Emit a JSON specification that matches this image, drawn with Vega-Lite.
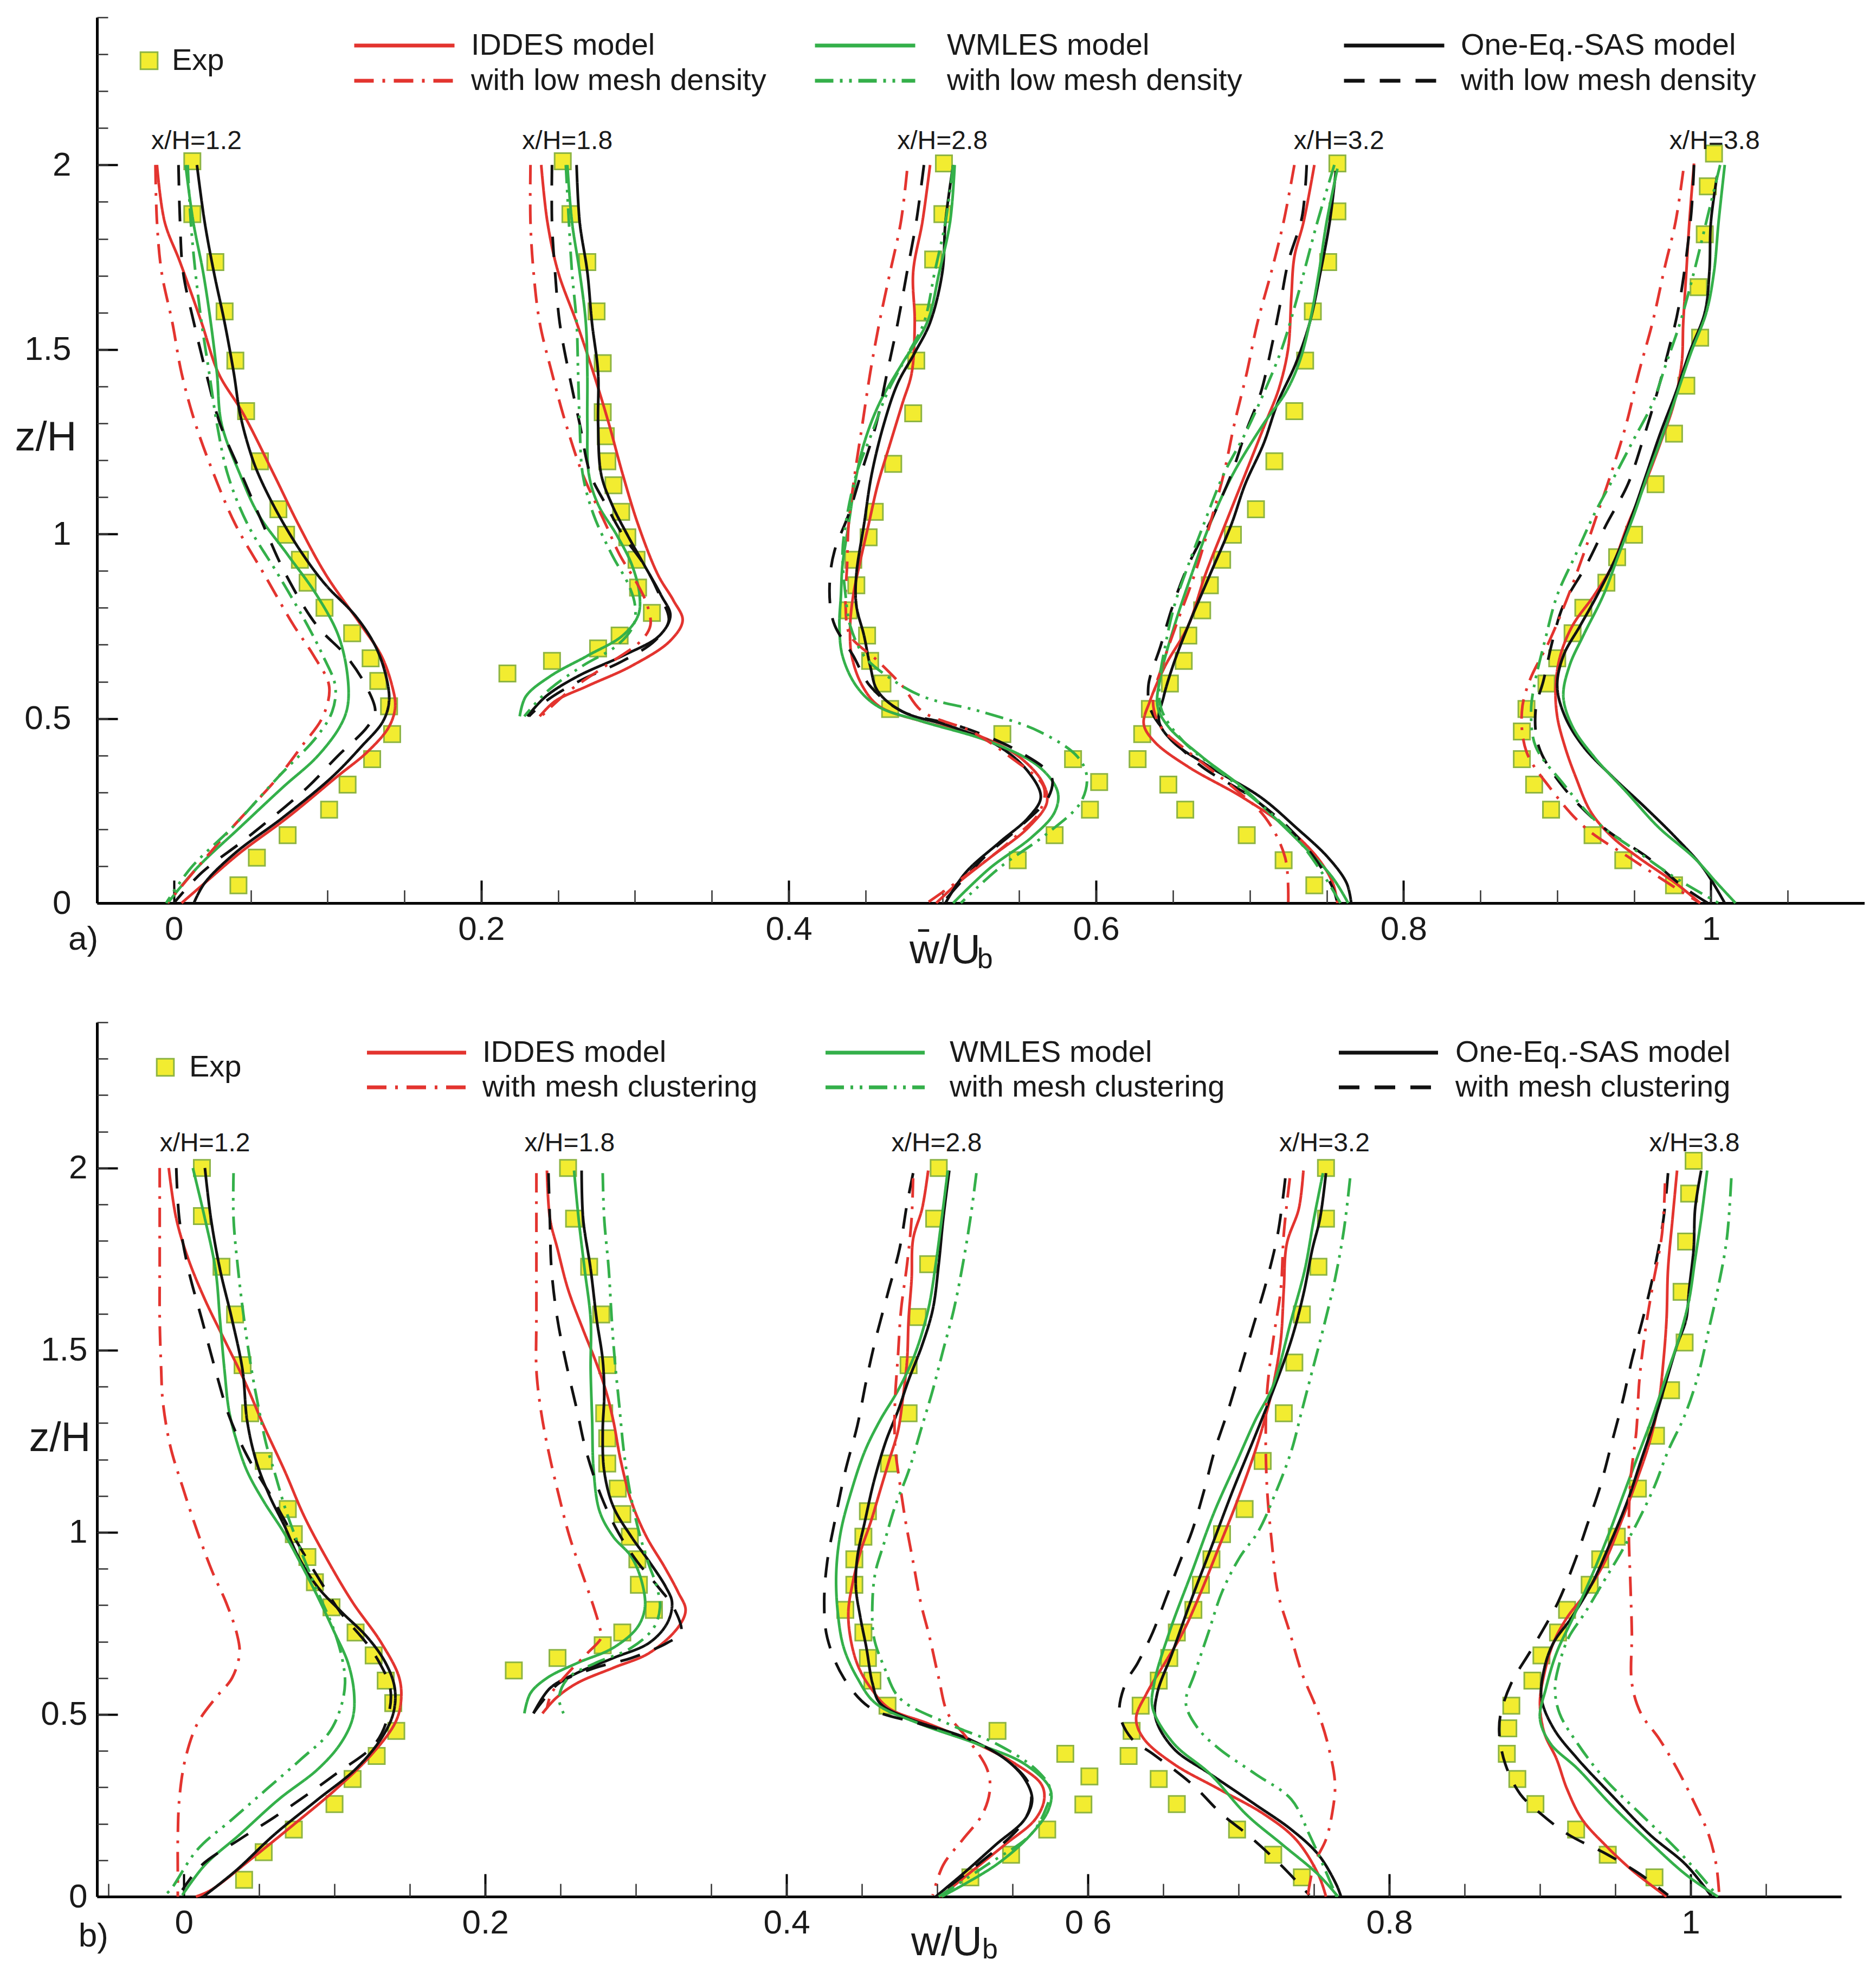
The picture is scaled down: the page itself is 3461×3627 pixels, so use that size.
{
"$schema": "https://vega.github.io/schema/vega-lite/v6.json",
"background": "white",
"padding": {"left": 27, "top": 30, "right": 0, "bottom": 0},
"autosize": {"type": "pad"},
"config": {"view": {"stroke": null}, "font": "Liberation Sans", "text": {"font": "Liberation Sans"}},
"spacing": 220,
"bounds": "flush",
"resolve": {"scale": {"x": "independent", "y": "independent", "color": "independent", "strokeDash": "independent", "fill": "independent"}},
"datasets": {
"a": [
{"s":1,"m":"I","x":-0.011,"z":2},{"s":1,"m":"I","x":-0.006,"z":1.846},{"s":1,"m":"I","x":0.004,"z":1.737},{"s":1,"m":"I","x":0.018,"z":1.573},{"s":1,"m":"I","x":0.029,"z":1.436},{"s":1,"m":"I","x":0.045,"z":1.327},{"s":1,"m":"I","x":0.065,"z":1.162},{"s":1,"m":"I","x":0.081,"z":1.026},{"s":1,"m":"I","x":0.099,"z":0.889},{"s":1,"m":"I","x":0.122,"z":0.752},{"s":1,"m":"I","x":0.135,"z":0.67},{"s":1,"m":"I","x":0.142,"z":0.588},{"s":1,"m":"I","x":0.144,"z":0.533},{"s":1,"m":"I","x":0.14,"z":0.478},{"s":1,"m":"I","x":0.126,"z":0.41},{"s":1,"m":"I","x":0.106,"z":0.342},{"s":1,"m":"I","x":0.074,"z":0.232},{"s":1,"m":"I","x":0.043,"z":0.136},{"s":1,"m":"I","x":0.02,"z":0.054},{"s":1,"m":"I","x":0.005,"z":0},
{"s":1,"m":"S","x":0.015,"z":2},{"s":1,"m":"S","x":0.02,"z":1.846},{"s":1,"m":"S","x":0.026,"z":1.71},{"s":1,"m":"S","x":0.033,"z":1.573},{"s":1,"m":"S","x":0.039,"z":1.436},{"s":1,"m":"S","x":0.043,"z":1.327},{"s":1,"m":"S","x":0.049,"z":1.231},{"s":1,"m":"S","x":0.055,"z":1.162},{"s":1,"m":"S","x":0.068,"z":1.053},{"s":1,"m":"S","x":0.084,"z":0.944},{"s":1,"m":"S","x":0.099,"z":0.861},{"s":1,"m":"S","x":0.118,"z":0.779},{"s":1,"m":"S","x":0.131,"z":0.697},{"s":1,"m":"S","x":0.138,"z":0.615},{"s":1,"m":"S","x":0.14,"z":0.547},{"s":1,"m":"S","x":0.136,"z":0.492},{"s":1,"m":"S","x":0.122,"z":0.424},{"s":1,"m":"S","x":0.103,"z":0.342},{"s":1,"m":"S","x":0.071,"z":0.232},{"s":1,"m":"S","x":0.04,"z":0.136},{"s":1,"m":"S","x":0.02,"z":0.054},{"s":1,"m":"S","x":0.013,"z":0},
{"s":1,"m":"W","x":0.0076,"z":2},{"s":1,"m":"W","x":0.0126,"z":1.846},{"s":1,"m":"W","x":0.019,"z":1.71},{"s":1,"m":"W","x":0.024,"z":1.573},{"s":1,"m":"W","x":0.028,"z":1.436},{"s":1,"m":"W","x":0.031,"z":1.299},{"s":1,"m":"W","x":0.043,"z":1.162},{"s":1,"m":"W","x":0.055,"z":1.053},{"s":1,"m":"W","x":0.074,"z":0.944},{"s":1,"m":"W","x":0.093,"z":0.834},{"s":1,"m":"W","x":0.107,"z":0.725},{"s":1,"m":"W","x":0.113,"z":0.615},{"s":1,"m":"W","x":0.113,"z":0.533},{"s":1,"m":"W","x":0.108,"z":0.478},{"s":1,"m":"W","x":0.093,"z":0.396},{"s":1,"m":"W","x":0.071,"z":0.314},{"s":1,"m":"W","x":0.043,"z":0.205},{"s":1,"m":"W","x":0.015,"z":0.095},{"s":1,"m":"W","x":-0.004,"z":0},
{"s":1,"m":"Sl","x":0.003,"z":2},{"s":1,"m":"Sl","x":0.004,"z":1.846},{"s":1,"m":"Sl","x":0.006,"z":1.71},{"s":1,"m":"Sl","x":0.013,"z":1.573},{"s":1,"m":"Sl","x":0.021,"z":1.436},{"s":1,"m":"Sl","x":0.03,"z":1.299},{"s":1,"m":"Sl","x":0.044,"z":1.162},{"s":1,"m":"Sl","x":0.058,"z":1.026},{"s":1,"m":"Sl","x":0.073,"z":0.889},{"s":1,"m":"Sl","x":0.093,"z":0.752},{"s":1,"m":"Sl","x":0.112,"z":0.67},{"s":1,"m":"Sl","x":0.125,"z":0.588},{"s":1,"m":"Sl","x":0.131,"z":0.519},{"s":1,"m":"Sl","x":0.126,"z":0.478},{"s":1,"m":"Sl","x":0.106,"z":0.396},{"s":1,"m":"Sl","x":0.087,"z":0.314},{"s":1,"m":"Sl","x":0.048,"z":0.178},{"s":1,"m":"Sl","x":0.018,"z":0.082},{"s":1,"m":"Sl","x":0,"z":0},
{"s":1,"m":"Il","x":-0.012,"z":2},{"s":1,"m":"Il","x":-0.011,"z":1.846},{"s":1,"m":"Il","x":-0.008,"z":1.71},{"s":1,"m":"Il","x":-0.001,"z":1.573},{"s":1,"m":"Il","x":0.005,"z":1.436},{"s":1,"m":"Il","x":0.014,"z":1.299},{"s":1,"m":"Il","x":0.026,"z":1.162},{"s":1,"m":"Il","x":0.04,"z":1.026},{"s":1,"m":"Il","x":0.059,"z":0.889},{"s":1,"m":"Il","x":0.078,"z":0.752},{"s":1,"m":"Il","x":0.091,"z":0.67},{"s":1,"m":"Il","x":0.101,"z":0.588},{"s":1,"m":"Il","x":0.097,"z":0.506},{"s":1,"m":"Il","x":0.083,"z":0.424},{"s":1,"m":"Il","x":0.068,"z":0.342},{"s":1,"m":"Il","x":0.038,"z":0.205},{"s":1,"m":"Il","x":0.015,"z":0.095},{"s":1,"m":"Il","x":-0.004,"z":0},
{"s":1,"m":"Wl","x":0.009,"z":2},{"s":1,"m":"Wl","x":0.011,"z":1.846},{"s":1,"m":"Wl","x":0.014,"z":1.71},{"s":1,"m":"Wl","x":0.018,"z":1.573},{"s":1,"m":"Wl","x":0.023,"z":1.436},{"s":1,"m":"Wl","x":0.028,"z":1.299},{"s":1,"m":"Wl","x":0.035,"z":1.162},{"s":1,"m":"Wl","x":0.048,"z":1.026},{"s":1,"m":"Wl","x":0.068,"z":0.889},{"s":1,"m":"Wl","x":0.087,"z":0.752},{"s":1,"m":"Wl","x":0.097,"z":0.67},{"s":1,"m":"Wl","x":0.105,"z":0.588},{"s":1,"m":"Wl","x":0.103,"z":0.519},{"s":1,"m":"Wl","x":0.093,"z":0.451},{"s":1,"m":"Wl","x":0.068,"z":0.342},{"s":1,"m":"Wl","x":0.038,"z":0.205},{"s":1,"m":"Wl","x":0.011,"z":0.095},{"s":1,"m":"Wl","x":-0.005,"z":0},
{"s":1,"m":"E","x":0.012,"z":2.01},{"s":1,"m":"E","x":0.012,"z":1.867},{"s":1,"m":"E","x":0.027,"z":1.737},{"s":1,"m":"E","x":0.033,"z":1.603},{"s":1,"m":"E","x":0.04,"z":1.47},{"s":1,"m":"E","x":0.047,"z":1.333},{"s":1,"m":"E","x":0.056,"z":1.197},{"s":1,"m":"E","x":0.068,"z":1.067},{"s":1,"m":"E","x":0.073,"z":0.998},{"s":1,"m":"E","x":0.082,"z":0.93},{"s":1,"m":"E","x":0.087,"z":0.868},{"s":1,"m":"E","x":0.098,"z":0.8},{"s":1,"m":"E","x":0.116,"z":0.731},{"s":1,"m":"E","x":0.128,"z":0.663},{"s":1,"m":"E","x":0.133,"z":0.602},{"s":1,"m":"E","x":0.14,"z":0.533},{"s":1,"m":"E","x":0.142,"z":0.458},{"s":1,"m":"E","x":0.129,"z":0.39},{"s":1,"m":"E","x":0.113,"z":0.321},{"s":1,"m":"E","x":0.101,"z":0.253},{"s":1,"m":"E","x":0.074,"z":0.184},{"s":1,"m":"E","x":0.054,"z":0.123},{"s":1,"m":"E","x":0.042,"z":0.048},
{"s":2,"m":"I","x":0.239,"z":2},{"s":2,"m":"I","x":0.243,"z":1.846},{"s":2,"m":"I","x":0.25,"z":1.71},{"s":2,"m":"I","x":0.262,"z":1.573},{"s":2,"m":"I","x":0.273,"z":1.436},{"s":2,"m":"I","x":0.283,"z":1.299},{"s":2,"m":"I","x":0.292,"z":1.162},{"s":2,"m":"I","x":0.302,"z":1.026},{"s":2,"m":"I","x":0.315,"z":0.889},{"s":2,"m":"I","x":0.325,"z":0.82},{"s":2,"m":"I","x":0.331,"z":0.766},{"s":2,"m":"I","x":0.323,"z":0.711},{"s":2,"m":"I","x":0.298,"z":0.643},{"s":2,"m":"I","x":0.269,"z":0.588},{"s":2,"m":"I","x":0.248,"z":0.547},{"s":2,"m":"I","x":0.238,"z":0.506},
{"s":2,"m":"S","x":0.262,"z":2},{"s":2,"m":"S","x":0.264,"z":1.846},{"s":2,"m":"S","x":0.269,"z":1.71},{"s":2,"m":"S","x":0.272,"z":1.573},{"s":2,"m":"S","x":0.276,"z":1.436},{"s":2,"m":"S","x":0.276,"z":1.299},{"s":2,"m":"S","x":0.278,"z":1.162},{"s":2,"m":"S","x":0.285,"z":1.08},{"s":2,"m":"S","x":0.295,"z":0.998},{"s":2,"m":"S","x":0.306,"z":0.916},{"s":2,"m":"S","x":0.317,"z":0.834},{"s":2,"m":"S","x":0.323,"z":0.779},{"s":2,"m":"S","x":0.316,"z":0.725},{"s":2,"m":"S","x":0.292,"z":0.67},{"s":2,"m":"S","x":0.263,"z":0.615},{"s":2,"m":"S","x":0.242,"z":0.56},{"s":2,"m":"S","x":0.23,"z":0.506},
{"s":2,"m":"W","x":0.256,"z":2},{"s":2,"m":"W","x":0.259,"z":1.846},{"s":2,"m":"W","x":0.264,"z":1.71},{"s":2,"m":"W","x":0.268,"z":1.573},{"s":2,"m":"W","x":0.269,"z":1.436},{"s":2,"m":"W","x":0.269,"z":1.299},{"s":2,"m":"W","x":0.27,"z":1.162},{"s":2,"m":"W","x":0.276,"z":1.08},{"s":2,"m":"W","x":0.288,"z":0.998},{"s":2,"m":"W","x":0.298,"z":0.916},{"s":2,"m":"W","x":0.303,"z":0.834},{"s":2,"m":"W","x":0.302,"z":0.779},{"s":2,"m":"W","x":0.292,"z":0.725},{"s":2,"m":"W","x":0.269,"z":0.67},{"s":2,"m":"W","x":0.245,"z":0.615},{"s":2,"m":"W","x":0.229,"z":0.56},{"s":2,"m":"W","x":0.225,"z":0.506},
{"s":2,"m":"Sl","x":0.246,"z":2},{"s":2,"m":"Sl","x":0.246,"z":1.846},{"s":2,"m":"Sl","x":0.248,"z":1.71},{"s":2,"m":"Sl","x":0.251,"z":1.573},{"s":2,"m":"Sl","x":0.257,"z":1.436},{"s":2,"m":"Sl","x":0.264,"z":1.299},{"s":2,"m":"Sl","x":0.271,"z":1.162},{"s":2,"m":"Sl","x":0.281,"z":1.08},{"s":2,"m":"Sl","x":0.292,"z":0.998},{"s":2,"m":"Sl","x":0.306,"z":0.916},{"s":2,"m":"Sl","x":0.316,"z":0.834},{"s":2,"m":"Sl","x":0.322,"z":0.766},{"s":2,"m":"Sl","x":0.313,"z":0.711},{"s":2,"m":"Sl","x":0.292,"z":0.656},{"s":2,"m":"Sl","x":0.264,"z":0.602},{"s":2,"m":"Sl","x":0.242,"z":0.547},{"s":2,"m":"Sl","x":0.231,"z":0.506},
{"s":2,"m":"Il","x":0.232,"z":2},{"s":2,"m":"Il","x":0.232,"z":1.846},{"s":2,"m":"Il","x":0.234,"z":1.71},{"s":2,"m":"Il","x":0.238,"z":1.573},{"s":2,"m":"Il","x":0.246,"z":1.436},{"s":2,"m":"Il","x":0.255,"z":1.299},{"s":2,"m":"Il","x":0.266,"z":1.162},{"s":2,"m":"Il","x":0.281,"z":1.026},{"s":2,"m":"Il","x":0.29,"z":0.944},{"s":2,"m":"Il","x":0.302,"z":0.861},{"s":2,"m":"Il","x":0.308,"z":0.807},{"s":2,"m":"Il","x":0.31,"z":0.752},{"s":2,"m":"Il","x":0.304,"z":0.711},{"s":2,"m":"Il","x":0.281,"z":0.643},{"s":2,"m":"Il","x":0.257,"z":0.574},{"s":2,"m":"Il","x":0.239,"z":0.506},
{"s":2,"m":"Wl","x":0.255,"z":2},{"s":2,"m":"Wl","x":0.257,"z":1.846},{"s":2,"m":"Wl","x":0.259,"z":1.71},{"s":2,"m":"Wl","x":0.262,"z":1.573},{"s":2,"m":"Wl","x":0.263,"z":1.436},{"s":2,"m":"Wl","x":0.264,"z":1.299},{"s":2,"m":"Wl","x":0.266,"z":1.162},{"s":2,"m":"Wl","x":0.273,"z":1.053},{"s":2,"m":"Wl","x":0.285,"z":0.944},{"s":2,"m":"Wl","x":0.296,"z":0.861},{"s":2,"m":"Wl","x":0.3,"z":0.807},{"s":2,"m":"Wl","x":0.299,"z":0.752},{"s":2,"m":"Wl","x":0.288,"z":0.697},{"s":2,"m":"Wl","x":0.266,"z":0.643},{"s":2,"m":"Wl","x":0.243,"z":0.574},{"s":2,"m":"Wl","x":0.228,"z":0.506},
{"s":2,"m":"E","x":0.253,"z":2.01},{"s":2,"m":"E","x":0.258,"z":1.867},{"s":2,"m":"E","x":0.269,"z":1.737},{"s":2,"m":"E","x":0.275,"z":1.603},{"s":2,"m":"E","x":0.279,"z":1.463},{"s":2,"m":"E","x":0.279,"z":1.33},{"s":2,"m":"E","x":0.281,"z":1.265},{"s":2,"m":"E","x":0.282,"z":1.197},{"s":2,"m":"E","x":0.286,"z":1.132},{"s":2,"m":"E","x":0.291,"z":1.06},{"s":2,"m":"E","x":0.295,"z":0.991},{"s":2,"m":"E","x":0.301,"z":0.93},{"s":2,"m":"E","x":0.302,"z":0.855},{"s":2,"m":"E","x":0.311,"z":0.786},{"s":2,"m":"E","x":0.29,"z":0.725},{"s":2,"m":"E","x":0.276,"z":0.69},{"s":2,"m":"E","x":0.246,"z":0.656},{"s":2,"m":"E","x":0.217,"z":0.622},
{"s":3,"m":"I","x":0.492,"z":2},{"s":3,"m":"I","x":0.487,"z":1.846},{"s":3,"m":"I","x":0.481,"z":1.71},{"s":3,"m":"I","x":0.482,"z":1.573},{"s":3,"m":"I","x":0.48,"z":1.436},{"s":3,"m":"I","x":0.474,"z":1.354},{"s":3,"m":"I","x":0.466,"z":1.245},{"s":3,"m":"I","x":0.458,"z":1.135},{"s":3,"m":"I","x":0.452,"z":1.026},{"s":3,"m":"I","x":0.446,"z":0.916},{"s":3,"m":"I","x":0.442,"z":0.834},{"s":3,"m":"I","x":0.44,"z":0.752},{"s":3,"m":"I","x":0.441,"z":0.67},{"s":3,"m":"I","x":0.448,"z":0.588},{"s":3,"m":"I","x":0.459,"z":0.533},{"s":3,"m":"I","x":0.487,"z":0.492},{"s":3,"m":"I","x":0.525,"z":0.451},{"s":3,"m":"I","x":0.55,"z":0.396},{"s":3,"m":"I","x":0.565,"z":0.328},{"s":3,"m":"I","x":0.568,"z":0.273},{"s":3,"m":"I","x":0.556,"z":0.205},{"s":3,"m":"I","x":0.531,"z":0.123},{"s":3,"m":"I","x":0.51,"z":0.054},{"s":3,"m":"I","x":0.496,"z":0},
{"s":3,"m":"S","x":0.507,"z":2},{"s":3,"m":"S","x":0.502,"z":1.846},{"s":3,"m":"S","x":0.5,"z":1.71},{"s":3,"m":"S","x":0.492,"z":1.573},{"s":3,"m":"S","x":0.482,"z":1.491},{"s":3,"m":"S","x":0.471,"z":1.409},{"s":3,"m":"S","x":0.462,"z":1.299},{"s":3,"m":"S","x":0.454,"z":1.162},{"s":3,"m":"S","x":0.449,"z":1.026},{"s":3,"m":"S","x":0.444,"z":0.889},{"s":3,"m":"S","x":0.444,"z":0.807},{"s":3,"m":"S","x":0.449,"z":0.725},{"s":3,"m":"S","x":0.453,"z":0.643},{"s":3,"m":"S","x":0.458,"z":0.574},{"s":3,"m":"S","x":0.474,"z":0.519},{"s":3,"m":"S","x":0.506,"z":0.478},{"s":3,"m":"S","x":0.537,"z":0.424},{"s":3,"m":"S","x":0.556,"z":0.355},{"s":3,"m":"S","x":0.564,"z":0.287},{"s":3,"m":"S","x":0.556,"z":0.232},{"s":3,"m":"S","x":0.537,"z":0.164},{"s":3,"m":"S","x":0.515,"z":0.082},{"s":3,"m":"S","x":0.502,"z":0},
{"s":3,"m":"W","x":0.508,"z":2},{"s":3,"m":"W","x":0.505,"z":1.846},{"s":3,"m":"W","x":0.498,"z":1.71},{"s":3,"m":"W","x":0.49,"z":1.573},{"s":3,"m":"W","x":0.474,"z":1.463},{"s":3,"m":"W","x":0.459,"z":1.354},{"s":3,"m":"W","x":0.449,"z":1.245},{"s":3,"m":"W","x":0.443,"z":1.135},{"s":3,"m":"W","x":0.439,"z":1.026},{"s":3,"m":"W","x":0.435,"z":0.916},{"s":3,"m":"W","x":0.434,"z":0.834},{"s":3,"m":"W","x":0.433,"z":0.752},{"s":3,"m":"W","x":0.435,"z":0.67},{"s":3,"m":"W","x":0.444,"z":0.588},{"s":3,"m":"W","x":0.458,"z":0.533},{"s":3,"m":"W","x":0.487,"z":0.492},{"s":3,"m":"W","x":0.531,"z":0.437},{"s":3,"m":"W","x":0.563,"z":0.369},{"s":3,"m":"W","x":0.575,"z":0.301},{"s":3,"m":"W","x":0.573,"z":0.246},{"s":3,"m":"W","x":0.558,"z":0.178},{"s":3,"m":"W","x":0.531,"z":0.095},{"s":3,"m":"W","x":0.507,"z":0},
{"s":3,"m":"Sl","x":0.488,"z":2},{"s":3,"m":"Sl","x":0.483,"z":1.846},{"s":3,"m":"Sl","x":0.477,"z":1.71},{"s":3,"m":"Sl","x":0.471,"z":1.573},{"s":3,"m":"Sl","x":0.464,"z":1.436},{"s":3,"m":"Sl","x":0.457,"z":1.299},{"s":3,"m":"Sl","x":0.447,"z":1.162},{"s":3,"m":"Sl","x":0.439,"z":1.053},{"s":3,"m":"Sl","x":0.43,"z":0.957},{"s":3,"m":"Sl","x":0.427,"z":0.889},{"s":3,"m":"Sl","x":0.427,"z":0.807},{"s":3,"m":"Sl","x":0.43,"z":0.752},{"s":3,"m":"Sl","x":0.442,"z":0.67},{"s":3,"m":"Sl","x":0.453,"z":0.588},{"s":3,"m":"Sl","x":0.474,"z":0.519},{"s":3,"m":"Sl","x":0.512,"z":0.478},{"s":3,"m":"Sl","x":0.55,"z":0.41},{"s":3,"m":"Sl","x":0.571,"z":0.342},{"s":3,"m":"Sl","x":0.569,"z":0.287},{"s":3,"m":"Sl","x":0.55,"z":0.205},{"s":3,"m":"Sl","x":0.527,"z":0.123},{"s":3,"m":"Sl","x":0.5,"z":0},
{"s":3,"m":"Il","x":0.477,"z":1.984},{"s":3,"m":"Il","x":0.473,"z":1.846},{"s":3,"m":"Il","x":0.466,"z":1.71},{"s":3,"m":"Il","x":0.459,"z":1.573},{"s":3,"m":"Il","x":0.453,"z":1.436},{"s":3,"m":"Il","x":0.448,"z":1.299},{"s":3,"m":"Il","x":0.443,"z":1.162},{"s":3,"m":"Il","x":0.439,"z":1.026},{"s":3,"m":"Il","x":0.438,"z":0.916},{"s":3,"m":"Il","x":0.437,"z":0.807},{"s":3,"m":"Il","x":0.44,"z":0.725},{"s":3,"m":"Il","x":0.458,"z":0.656},{"s":3,"m":"Il","x":0.474,"z":0.588},{"s":3,"m":"Il","x":0.487,"z":0.519},{"s":3,"m":"Il","x":0.519,"z":0.465},{"s":3,"m":"Il","x":0.544,"z":0.396},{"s":3,"m":"Il","x":0.566,"z":0.314},{"s":3,"m":"Il","x":0.563,"z":0.246},{"s":3,"m":"Il","x":0.547,"z":0.178},{"s":3,"m":"Il","x":0.522,"z":0.095},{"s":3,"m":"Il","x":0.49,"z":0},
{"s":3,"m":"Wl","x":0.507,"z":2},{"s":3,"m":"Wl","x":0.502,"z":1.846},{"s":3,"m":"Wl","x":0.495,"z":1.71},{"s":3,"m":"Wl","x":0.488,"z":1.573},{"s":3,"m":"Wl","x":0.478,"z":1.491},{"s":3,"m":"Wl","x":0.464,"z":1.381},{"s":3,"m":"Wl","x":0.454,"z":1.272},{"s":3,"m":"Wl","x":0.444,"z":1.162},{"s":3,"m":"Wl","x":0.437,"z":1.026},{"s":3,"m":"Wl","x":0.435,"z":0.944},{"s":3,"m":"Wl","x":0.437,"z":0.834},{"s":3,"m":"Wl","x":0.44,"z":0.752},{"s":3,"m":"Wl","x":0.449,"z":0.67},{"s":3,"m":"Wl","x":0.464,"z":0.615},{"s":3,"m":"Wl","x":0.487,"z":0.56},{"s":3,"m":"Wl","x":0.525,"z":0.519},{"s":3,"m":"Wl","x":0.563,"z":0.465},{"s":3,"m":"Wl","x":0.588,"z":0.396},{"s":3,"m":"Wl","x":0.594,"z":0.342},{"s":3,"m":"Wl","x":0.59,"z":0.273},{"s":3,"m":"Wl","x":0.569,"z":0.191},{"s":3,"m":"Wl","x":0.537,"z":0.095},{"s":3,"m":"Wl","x":0.512,"z":0},
{"s":3,"m":"E","x":0.501,"z":2.004},{"s":3,"m":"E","x":0.5,"z":1.867},{"s":3,"m":"E","x":0.494,"z":1.744},{"s":3,"m":"E","x":0.487,"z":1.6},{"s":3,"m":"E","x":0.483,"z":1.47},{"s":3,"m":"E","x":0.481,"z":1.327},{"s":3,"m":"E","x":0.468,"z":1.19},{"s":3,"m":"E","x":0.456,"z":1.06},{"s":3,"m":"E","x":0.452,"z":0.991},{"s":3,"m":"E","x":0.442,"z":0.93},{"s":3,"m":"E","x":0.444,"z":0.861},{"s":3,"m":"E","x":0.439,"z":0.793},{"s":3,"m":"E","x":0.451,"z":0.725},{"s":3,"m":"E","x":0.453,"z":0.656},{"s":3,"m":"E","x":0.461,"z":0.595},{"s":3,"m":"E","x":0.466,"z":0.526},{"s":3,"m":"E","x":0.539,"z":0.458},{"s":3,"m":"E","x":0.585,"z":0.39},{"s":3,"m":"E","x":0.602,"z":0.328},{"s":3,"m":"E","x":0.596,"z":0.253},{"s":3,"m":"E","x":0.573,"z":0.184},{"s":3,"m":"E","x":0.549,"z":0.116},
{"s":4,"m":"I","x":0.742,"z":2},{"s":4,"m":"I","x":0.735,"z":1.846},{"s":4,"m":"I","x":0.729,"z":1.751},{"s":4,"m":"I","x":0.727,"z":1.641},{"s":4,"m":"I","x":0.725,"z":1.504},{"s":4,"m":"I","x":0.719,"z":1.395},{"s":4,"m":"I","x":0.71,"z":1.299},{"s":4,"m":"I","x":0.697,"z":1.162},{"s":4,"m":"I","x":0.684,"z":1.026},{"s":4,"m":"I","x":0.671,"z":0.889},{"s":4,"m":"I","x":0.66,"z":0.752},{"s":4,"m":"I","x":0.645,"z":0.643},{"s":4,"m":"I","x":0.635,"z":0.547},{"s":4,"m":"I","x":0.631,"z":0.485},{"s":4,"m":"I","x":0.638,"z":0.437},{"s":4,"m":"I","x":0.66,"z":0.369},{"s":4,"m":"I","x":0.695,"z":0.287},{"s":4,"m":"I","x":0.724,"z":0.205},{"s":4,"m":"I","x":0.744,"z":0.123},{"s":4,"m":"I","x":0.754,"z":0.054},{"s":4,"m":"I","x":0.757,"z":0},
{"s":4,"m":"S","x":0.756,"z":1.984},{"s":4,"m":"S","x":0.752,"z":1.846},{"s":4,"m":"S","x":0.746,"z":1.71},{"s":4,"m":"S","x":0.739,"z":1.573},{"s":4,"m":"S","x":0.73,"z":1.463},{"s":4,"m":"S","x":0.718,"z":1.354},{"s":4,"m":"S","x":0.709,"z":1.245},{"s":4,"m":"S","x":0.697,"z":1.135},{"s":4,"m":"S","x":0.688,"z":1.026},{"s":4,"m":"S","x":0.674,"z":0.889},{"s":4,"m":"S","x":0.66,"z":0.752},{"s":4,"m":"S","x":0.65,"z":0.643},{"s":4,"m":"S","x":0.644,"z":0.56},{"s":4,"m":"S","x":0.641,"z":0.492},{"s":4,"m":"S","x":0.65,"z":0.437},{"s":4,"m":"S","x":0.674,"z":0.369},{"s":4,"m":"S","x":0.707,"z":0.287},{"s":4,"m":"S","x":0.73,"z":0.205},{"s":4,"m":"S","x":0.751,"z":0.123},{"s":4,"m":"S","x":0.763,"z":0.054},{"s":4,"m":"S","x":0.766,"z":0},
{"s":4,"m":"W","x":0.757,"z":1.99},{"s":4,"m":"W","x":0.75,"z":1.846},{"s":4,"m":"W","x":0.745,"z":1.71},{"s":4,"m":"W","x":0.739,"z":1.573},{"s":4,"m":"W","x":0.732,"z":1.463},{"s":4,"m":"W","x":0.723,"z":1.381},{"s":4,"m":"W","x":0.709,"z":1.299},{"s":4,"m":"W","x":0.689,"z":1.162},{"s":4,"m":"W","x":0.674,"z":1.026},{"s":4,"m":"W","x":0.662,"z":0.889},{"s":4,"m":"W","x":0.651,"z":0.752},{"s":4,"m":"W","x":0.642,"z":0.615},{"s":4,"m":"W","x":0.64,"z":0.533},{"s":4,"m":"W","x":0.647,"z":0.478},{"s":4,"m":"W","x":0.669,"z":0.396},{"s":4,"m":"W","x":0.695,"z":0.314},{"s":4,"m":"W","x":0.716,"z":0.232},{"s":4,"m":"W","x":0.736,"z":0.15},{"s":4,"m":"W","x":0.754,"z":0.068},{"s":4,"m":"W","x":0.764,"z":0},
{"s":4,"m":"Sl","x":0.737,"z":2},{"s":4,"m":"Sl","x":0.734,"z":1.86},{"s":4,"m":"Sl","x":0.725,"z":1.737},{"s":4,"m":"Sl","x":0.72,"z":1.628},{"s":4,"m":"Sl","x":0.714,"z":1.504},{"s":4,"m":"Sl","x":0.707,"z":1.381},{"s":4,"m":"Sl","x":0.697,"z":1.272},{"s":4,"m":"Sl","x":0.688,"z":1.162},{"s":4,"m":"Sl","x":0.675,"z":1.039},{"s":4,"m":"Sl","x":0.66,"z":0.916},{"s":4,"m":"Sl","x":0.65,"z":0.807},{"s":4,"m":"Sl","x":0.642,"z":0.697},{"s":4,"m":"Sl","x":0.634,"z":0.588},{"s":4,"m":"Sl","x":0.636,"z":0.519},{"s":4,"m":"Sl","x":0.648,"z":0.451},{"s":4,"m":"Sl","x":0.669,"z":0.369},{"s":4,"m":"Sl","x":0.701,"z":0.287},{"s":4,"m":"Sl","x":0.725,"z":0.205},{"s":4,"m":"Sl","x":0.742,"z":0.123},{"s":4,"m":"Sl","x":0.754,"z":0.041},{"s":4,"m":"Sl","x":0.757,"z":0},
{"s":4,"m":"Il","x":0.729,"z":2},{"s":4,"m":"Il","x":0.722,"z":1.846},{"s":4,"m":"Il","x":0.714,"z":1.71},{"s":4,"m":"Il","x":0.705,"z":1.573},{"s":4,"m":"Il","x":0.698,"z":1.436},{"s":4,"m":"Il","x":0.69,"z":1.299},{"s":4,"m":"Il","x":0.683,"z":1.162},{"s":4,"m":"Il","x":0.674,"z":1.026},{"s":4,"m":"Il","x":0.664,"z":0.889},{"s":4,"m":"Il","x":0.652,"z":0.752},{"s":4,"m":"Il","x":0.643,"z":0.643},{"s":4,"m":"Il","x":0.637,"z":0.547},{"s":4,"m":"Il","x":0.642,"z":0.478},{"s":4,"m":"Il","x":0.66,"z":0.41},{"s":4,"m":"Il","x":0.689,"z":0.314},{"s":4,"m":"Il","x":0.71,"z":0.232},{"s":4,"m":"Il","x":0.723,"z":0.123},{"s":4,"m":"Il","x":0.725,"z":0},
{"s":4,"m":"Wl","x":0.755,"z":2},{"s":4,"m":"Wl","x":0.744,"z":1.846},{"s":4,"m":"Wl","x":0.737,"z":1.737},{"s":4,"m":"Wl","x":0.73,"z":1.628},{"s":4,"m":"Wl","x":0.721,"z":1.504},{"s":4,"m":"Wl","x":0.709,"z":1.381},{"s":4,"m":"Wl","x":0.697,"z":1.272},{"s":4,"m":"Wl","x":0.683,"z":1.162},{"s":4,"m":"Wl","x":0.67,"z":1.026},{"s":4,"m":"Wl","x":0.66,"z":0.916},{"s":4,"m":"Wl","x":0.651,"z":0.807},{"s":4,"m":"Wl","x":0.645,"z":0.697},{"s":4,"m":"Wl","x":0.641,"z":0.588},{"s":4,"m":"Wl","x":0.643,"z":0.519},{"s":4,"m":"Wl","x":0.657,"z":0.437},{"s":4,"m":"Wl","x":0.685,"z":0.342},{"s":4,"m":"Wl","x":0.709,"z":0.26},{"s":4,"m":"Wl","x":0.73,"z":0.178},{"s":4,"m":"Wl","x":0.747,"z":0.082},{"s":4,"m":"Wl","x":0.759,"z":0},
{"s":4,"m":"E","x":0.757,"z":2.004},{"s":4,"m":"E","x":0.757,"z":1.874},{"s":4,"m":"E","x":0.751,"z":1.737},{"s":4,"m":"E","x":0.741,"z":1.603},{"s":4,"m":"E","x":0.736,"z":1.47},{"s":4,"m":"E","x":0.729,"z":1.333},{"s":4,"m":"E","x":0.716,"z":1.197},{"s":4,"m":"E","x":0.704,"z":1.067},{"s":4,"m":"E","x":0.689,"z":0.998},{"s":4,"m":"E","x":0.682,"z":0.93},{"s":4,"m":"E","x":0.674,"z":0.861},{"s":4,"m":"E","x":0.669,"z":0.793},{"s":4,"m":"E","x":0.66,"z":0.725},{"s":4,"m":"E","x":0.657,"z":0.656},{"s":4,"m":"E","x":0.648,"z":0.595},{"s":4,"m":"E","x":0.635,"z":0.526},{"s":4,"m":"E","x":0.63,"z":0.458},{"s":4,"m":"E","x":0.627,"z":0.39},{"s":4,"m":"E","x":0.647,"z":0.321},{"s":4,"m":"E","x":0.658,"z":0.253},{"s":4,"m":"E","x":0.698,"z":0.184},{"s":4,"m":"E","x":0.722,"z":0.116},{"s":4,"m":"E","x":0.742,"z":0.048},
{"s":5,"m":"I","x":0.989,"z":2.004},{"s":5,"m":"I","x":0.986,"z":1.846},{"s":5,"m":"I","x":0.984,"z":1.71},{"s":5,"m":"I","x":0.982,"z":1.573},{"s":5,"m":"I","x":0.981,"z":1.463},{"s":5,"m":"I","x":0.976,"z":1.354},{"s":5,"m":"I","x":0.967,"z":1.245},{"s":5,"m":"I","x":0.957,"z":1.135},{"s":5,"m":"I","x":0.946,"z":1.026},{"s":5,"m":"I","x":0.936,"z":0.916},{"s":5,"m":"I","x":0.924,"z":0.834},{"s":5,"m":"I","x":0.91,"z":0.752},{"s":5,"m":"I","x":0.902,"z":0.67},{"s":5,"m":"I","x":0.899,"z":0.588},{"s":5,"m":"I","x":0.9,"z":0.506},{"s":5,"m":"I","x":0.905,"z":0.424},{"s":5,"m":"I","x":0.912,"z":0.342},{"s":5,"m":"I","x":0.922,"z":0.246},{"s":5,"m":"I","x":0.936,"z":0.178},{"s":5,"m":"I","x":0.953,"z":0.123},{"s":5,"m":"I","x":0.977,"z":0.054},{"s":5,"m":"I","x":0.993,"z":0},
{"s":5,"m":"S","x":1.004,"z":1.97},{"s":5,"m":"S","x":1,"z":1.846},{"s":5,"m":"S","x":0.999,"z":1.71},{"s":5,"m":"S","x":0.996,"z":1.6},{"s":5,"m":"S","x":0.986,"z":1.491},{"s":5,"m":"S","x":0.977,"z":1.381},{"s":5,"m":"S","x":0.967,"z":1.272},{"s":5,"m":"S","x":0.958,"z":1.162},{"s":5,"m":"S","x":0.949,"z":1.053},{"s":5,"m":"S","x":0.939,"z":0.944},{"s":5,"m":"S","x":0.926,"z":0.834},{"s":5,"m":"S","x":0.915,"z":0.752},{"s":5,"m":"S","x":0.904,"z":0.67},{"s":5,"m":"S","x":0.9,"z":0.588},{"s":5,"m":"S","x":0.905,"z":0.506},{"s":5,"m":"S","x":0.917,"z":0.424},{"s":5,"m":"S","x":0.936,"z":0.342},{"s":5,"m":"S","x":0.957,"z":0.26},{"s":5,"m":"S","x":0.977,"z":0.178},{"s":5,"m":"S","x":0.995,"z":0.095},{"s":5,"m":"S","x":1.009,"z":0},
{"s":5,"m":"W","x":1.009,"z":2},{"s":5,"m":"W","x":1.005,"z":1.846},{"s":5,"m":"W","x":1.002,"z":1.71},{"s":5,"m":"W","x":0.997,"z":1.6},{"s":5,"m":"W","x":0.987,"z":1.491},{"s":5,"m":"W","x":0.978,"z":1.381},{"s":5,"m":"W","x":0.969,"z":1.272},{"s":5,"m":"W","x":0.959,"z":1.162},{"s":5,"m":"W","x":0.95,"z":1.053},{"s":5,"m":"W","x":0.94,"z":0.944},{"s":5,"m":"W","x":0.93,"z":0.834},{"s":5,"m":"W","x":0.917,"z":0.725},{"s":5,"m":"W","x":0.908,"z":0.643},{"s":5,"m":"W","x":0.904,"z":0.56},{"s":5,"m":"W","x":0.91,"z":0.478},{"s":5,"m":"W","x":0.924,"z":0.396},{"s":5,"m":"W","x":0.945,"z":0.301},{"s":5,"m":"W","x":0.966,"z":0.205},{"s":5,"m":"W","x":0.989,"z":0.123},{"s":5,"m":"W","x":1.004,"z":0.054},{"s":5,"m":"W","x":1.016,"z":0},
{"s":5,"m":"Sl","x":0.989,"z":2},{"s":5,"m":"Sl","x":0.987,"z":1.86},{"s":5,"m":"Sl","x":0.979,"z":1.614},{"s":5,"m":"Sl","x":0.972,"z":1.491},{"s":5,"m":"Sl","x":0.964,"z":1.368},{"s":5,"m":"Sl","x":0.956,"z":1.258},{"s":5,"m":"Sl","x":0.946,"z":1.135},{"s":5,"m":"Sl","x":0.932,"z":1.026},{"s":5,"m":"Sl","x":0.919,"z":0.916},{"s":5,"m":"Sl","x":0.904,"z":0.807},{"s":5,"m":"Sl","x":0.897,"z":0.711},{"s":5,"m":"Sl","x":0.891,"z":0.602},{"s":5,"m":"Sl","x":0.886,"z":0.526},{"s":5,"m":"Sl","x":0.888,"z":0.424},{"s":5,"m":"Sl","x":0.904,"z":0.314},{"s":5,"m":"Sl","x":0.93,"z":0.205},{"s":5,"m":"Sl","x":0.959,"z":0.123},{"s":5,"m":"Sl","x":0.983,"z":0.041},{"s":5,"m":"Sl","x":0.998,"z":0},
{"s":5,"m":"Il","x":0.982,"z":1.984},{"s":5,"m":"Il","x":0.977,"z":1.846},{"s":5,"m":"Il","x":0.97,"z":1.723},{"s":5,"m":"Il","x":0.962,"z":1.573},{"s":5,"m":"Il","x":0.953,"z":1.436},{"s":5,"m":"Il","x":0.945,"z":1.299},{"s":5,"m":"Il","x":0.936,"z":1.176},{"s":5,"m":"Il","x":0.926,"z":1.053},{"s":5,"m":"Il","x":0.917,"z":0.944},{"s":5,"m":"Il","x":0.906,"z":0.82},{"s":5,"m":"Il","x":0.895,"z":0.711},{"s":5,"m":"Il","x":0.882,"z":0.602},{"s":5,"m":"Il","x":0.877,"z":0.519},{"s":5,"m":"Il","x":0.88,"z":0.41},{"s":5,"m":"Il","x":0.895,"z":0.314},{"s":5,"m":"Il","x":0.918,"z":0.205},{"s":5,"m":"Il","x":0.947,"z":0.123},{"s":5,"m":"Il","x":0.977,"z":0.041},{"s":5,"m":"Il","x":0.993,"z":0},
{"s":5,"m":"Wl","x":1.006,"z":2},{"s":5,"m":"Wl","x":0.997,"z":1.846},{"s":5,"m":"Wl","x":0.989,"z":1.71},{"s":5,"m":"Wl","x":0.98,"z":1.573},{"s":5,"m":"Wl","x":0.971,"z":1.463},{"s":5,"m":"Wl","x":0.962,"z":1.354},{"s":5,"m":"Wl","x":0.95,"z":1.258},{"s":5,"m":"Wl","x":0.938,"z":1.162},{"s":5,"m":"Wl","x":0.924,"z":1.053},{"s":5,"m":"Wl","x":0.912,"z":0.944},{"s":5,"m":"Wl","x":0.9,"z":0.834},{"s":5,"m":"Wl","x":0.892,"z":0.711},{"s":5,"m":"Wl","x":0.885,"z":0.588},{"s":5,"m":"Wl","x":0.883,"z":0.519},{"s":5,"m":"Wl","x":0.886,"z":0.424},{"s":5,"m":"Wl","x":0.903,"z":0.328},{"s":5,"m":"Wl","x":0.926,"z":0.219},{"s":5,"m":"Wl","x":0.953,"z":0.137},{"s":5,"m":"Wl","x":0.977,"z":0.068},{"s":5,"m":"Wl","x":1.005,"z":0},
{"s":5,"m":"E","x":1.002,"z":2.031},{"s":5,"m":"E","x":0.998,"z":1.942},{"s":5,"m":"E","x":0.996,"z":1.812},{"s":5,"m":"E","x":0.992,"z":1.669},{"s":5,"m":"E","x":0.993,"z":1.532},{"s":5,"m":"E","x":0.984,"z":1.402},{"s":5,"m":"E","x":0.976,"z":1.272},{"s":5,"m":"E","x":0.964,"z":1.135},{"s":5,"m":"E","x":0.95,"z":0.998},{"s":5,"m":"E","x":0.939,"z":0.937},{"s":5,"m":"E","x":0.932,"z":0.868},{"s":5,"m":"E","x":0.917,"z":0.8},{"s":5,"m":"E","x":0.91,"z":0.731},{"s":5,"m":"E","x":0.9,"z":0.663},{"s":5,"m":"E","x":0.893,"z":0.595},{"s":5,"m":"E","x":0.88,"z":0.526},{"s":5,"m":"E","x":0.877,"z":0.465},{"s":5,"m":"E","x":0.877,"z":0.39},{"s":5,"m":"E","x":0.885,"z":0.321},{"s":5,"m":"E","x":0.896,"z":0.253},{"s":5,"m":"E","x":0.923,"z":0.184},{"s":5,"m":"E","x":0.943,"z":0.116},{"s":5,"m":"E","x":0.976,"z":0.048}
],
"b": [
{"s":1,"m":"I","x":-0.01,"z":2},{"s":1,"m":"I","x":-0.005,"z":1.861},{"s":1,"m":"I","x":0.003,"z":1.75},{"s":1,"m":"I","x":0.014,"z":1.639},{"s":1,"m":"I","x":0.027,"z":1.528},{"s":1,"m":"I","x":0.04,"z":1.418},{"s":1,"m":"I","x":0.053,"z":1.293},{"s":1,"m":"I","x":0.067,"z":1.168},{"s":1,"m":"I","x":0.08,"z":1.043},{"s":1,"m":"I","x":0.096,"z":0.919},{"s":1,"m":"I","x":0.112,"z":0.808},{"s":1,"m":"I","x":0.131,"z":0.697},{"s":1,"m":"I","x":0.143,"z":0.6},{"s":1,"m":"I","x":0.144,"z":0.531},{"s":1,"m":"I","x":0.14,"z":0.475},{"s":1,"m":"I","x":0.125,"z":0.392},{"s":1,"m":"I","x":0.101,"z":0.295},{"s":1,"m":"I","x":0.073,"z":0.198},{"s":1,"m":"I","x":0.044,"z":0.101},{"s":1,"m":"I","x":0.018,"z":0.018},{"s":1,"m":"I","x":0.008,"z":0},
{"s":1,"m":"S","x":0.014,"z":2},{"s":1,"m":"S","x":0.018,"z":1.861},{"s":1,"m":"S","x":0.024,"z":1.722},{"s":1,"m":"S","x":0.032,"z":1.584},{"s":1,"m":"S","x":0.039,"z":1.445},{"s":1,"m":"S","x":0.042,"z":1.307},{"s":1,"m":"S","x":0.048,"z":1.196},{"s":1,"m":"S","x":0.057,"z":1.099},{"s":1,"m":"S","x":0.067,"z":1.016},{"s":1,"m":"S","x":0.076,"z":0.933},{"s":1,"m":"S","x":0.089,"z":0.849},{"s":1,"m":"S","x":0.105,"z":0.78},{"s":1,"m":"S","x":0.122,"z":0.711},{"s":1,"m":"S","x":0.134,"z":0.641},{"s":1,"m":"S","x":0.14,"z":0.572},{"s":1,"m":"S","x":0.139,"z":0.503},{"s":1,"m":"S","x":0.131,"z":0.434},{"s":1,"m":"S","x":0.114,"z":0.35},{"s":1,"m":"S","x":0.089,"z":0.267},{"s":1,"m":"S","x":0.06,"z":0.17},{"s":1,"m":"S","x":0.035,"z":0.073},{"s":1,"m":"S","x":0.013,"z":0},
{"s":1,"m":"W","x":0.006,"z":2},{"s":1,"m":"W","x":0.014,"z":1.861},{"s":1,"m":"W","x":0.021,"z":1.722},{"s":1,"m":"W","x":0.024,"z":1.584},{"s":1,"m":"W","x":0.027,"z":1.445},{"s":1,"m":"W","x":0.03,"z":1.334},{"s":1,"m":"W","x":0.035,"z":1.251},{"s":1,"m":"W","x":0.042,"z":1.168},{"s":1,"m":"W","x":0.053,"z":1.085},{"s":1,"m":"W","x":0.066,"z":1.002},{"s":1,"m":"W","x":0.077,"z":0.919},{"s":1,"m":"W","x":0.089,"z":0.822},{"s":1,"m":"W","x":0.1,"z":0.725},{"s":1,"m":"W","x":0.109,"z":0.641},{"s":1,"m":"W","x":0.113,"z":0.558},{"s":1,"m":"W","x":0.112,"z":0.489},{"s":1,"m":"W","x":0.104,"z":0.42},{"s":1,"m":"W","x":0.089,"z":0.35},{"s":1,"m":"W","x":0.063,"z":0.267},{"s":1,"m":"W","x":0.037,"z":0.17},{"s":1,"m":"W","x":0.014,"z":0.087},{"s":1,"m":"W","x":-0.001,"z":0.004},
{"s":1,"m":"Sl","x":-0.005,"z":2},{"s":1,"m":"Sl","x":-0.003,"z":1.861},{"s":1,"m":"Sl","x":0.003,"z":1.722},{"s":1,"m":"Sl","x":0.012,"z":1.584},{"s":1,"m":"Sl","x":0.021,"z":1.445},{"s":1,"m":"Sl","x":0.03,"z":1.32},{"s":1,"m":"Sl","x":0.042,"z":1.21},{"s":1,"m":"Sl","x":0.058,"z":1.099},{"s":1,"m":"Sl","x":0.073,"z":0.988},{"s":1,"m":"Sl","x":0.089,"z":0.877},{"s":1,"m":"Sl","x":0.104,"z":0.78},{"s":1,"m":"Sl","x":0.121,"z":0.697},{"s":1,"m":"Sl","x":0.13,"z":0.641},{"s":1,"m":"Sl","x":0.137,"z":0.572},{"s":1,"m":"Sl","x":0.136,"z":0.503},{"s":1,"m":"Sl","x":0.127,"z":0.42},{"s":1,"m":"Sl","x":0.101,"z":0.337},{"s":1,"m":"Sl","x":0.063,"z":0.226},{"s":1,"m":"Sl","x":0.037,"z":0.157},{"s":1,"m":"Sl","x":0.012,"z":0.087},{"s":1,"m":"Sl","x":-0.001,"z":0.018},
{"s":1,"m":"Il","x":-0.016,"z":2},{"s":1,"m":"Il","x":-0.016,"z":1.861},{"s":1,"m":"Il","x":-0.016,"z":1.722},{"s":1,"m":"Il","x":-0.016,"z":1.584},{"s":1,"m":"Il","x":-0.015,"z":1.445},{"s":1,"m":"Il","x":-0.014,"z":1.362},{"s":1,"m":"Il","x":-0.009,"z":1.237},{"s":1,"m":"Il","x":-0.001,"z":1.127},{"s":1,"m":"Il","x":0.009,"z":1.002},{"s":1,"m":"Il","x":0.019,"z":0.891},{"s":1,"m":"Il","x":0.028,"z":0.808},{"s":1,"m":"Il","x":0.035,"z":0.725},{"s":1,"m":"Il","x":0.037,"z":0.669},{"s":1,"m":"Il","x":0.032,"z":0.6},{"s":1,"m":"Il","x":0.021,"z":0.545},{"s":1,"m":"Il","x":0.009,"z":0.475},{"s":1,"m":"Il","x":0.001,"z":0.378},{"s":1,"m":"Il","x":-0.003,"z":0.267},{"s":1,"m":"Il","x":-0.004,"z":0.157},{"s":1,"m":"Il","x":-0.004,"z":0.059},{"s":1,"m":"Il","x":-0.004,"z":0},
{"s":1,"m":"Wl","x":0.033,"z":1.986},{"s":1,"m":"Wl","x":0.033,"z":1.861},{"s":1,"m":"Wl","x":0.036,"z":1.722},{"s":1,"m":"Wl","x":0.04,"z":1.584},{"s":1,"m":"Wl","x":0.045,"z":1.445},{"s":1,"m":"Wl","x":0.05,"z":1.334},{"s":1,"m":"Wl","x":0.055,"z":1.237},{"s":1,"m":"Wl","x":0.06,"z":1.168},{"s":1,"m":"Wl","x":0.068,"z":1.057},{"s":1,"m":"Wl","x":0.078,"z":0.946},{"s":1,"m":"Wl","x":0.089,"z":0.835},{"s":1,"m":"Wl","x":0.099,"z":0.739},{"s":1,"m":"Wl","x":0.105,"z":0.655},{"s":1,"m":"Wl","x":0.107,"z":0.586},{"s":1,"m":"Wl","x":0.104,"z":0.517},{"s":1,"m":"Wl","x":0.096,"z":0.448},{"s":1,"m":"Wl","x":0.078,"z":0.378},{"s":1,"m":"Wl","x":0.055,"z":0.295},{"s":1,"m":"Wl","x":0.032,"z":0.212},{"s":1,"m":"Wl","x":0.009,"z":0.129},{"s":1,"m":"Wl","x":-0.009,"z":0.018},{"s":1,"m":"Wl","x":-0.014,"z":0},
{"s":1,"m":"E","x":0.012,"z":2},{"s":1,"m":"E","x":0.012,"z":1.868},{"s":1,"m":"E","x":0.025,"z":1.729},{"s":1,"m":"E","x":0.034,"z":1.598},{"s":1,"m":"E","x":0.039,"z":1.459},{"s":1,"m":"E","x":0.044,"z":1.327},{"s":1,"m":"E","x":0.053,"z":1.196},{"s":1,"m":"E","x":0.069,"z":1.064},{"s":1,"m":"E","x":0.073,"z":0.995},{"s":1,"m":"E","x":0.082,"z":0.932},{"s":1,"m":"E","x":0.087,"z":0.863},{"s":1,"m":"E","x":0.098,"z":0.794},{"s":1,"m":"E","x":0.114,"z":0.725},{"s":1,"m":"E","x":0.126,"z":0.662},{"s":1,"m":"E","x":0.134,"z":0.593},{"s":1,"m":"E","x":0.139,"z":0.531},{"s":1,"m":"E","x":0.141,"z":0.455},{"s":1,"m":"E","x":0.128,"z":0.386},{"s":1,"m":"E","x":0.112,"z":0.323},{"s":1,"m":"E","x":0.1,"z":0.254},{"s":1,"m":"E","x":0.073,"z":0.184},{"s":1,"m":"E","x":0.053,"z":0.122},{"s":1,"m":"E","x":0.04,"z":0.046},
{"s":2,"m":"I","x":0.241,"z":1.993},{"s":2,"m":"I","x":0.243,"z":1.861},{"s":2,"m":"I","x":0.248,"z":1.778},{"s":2,"m":"I","x":0.255,"z":1.667},{"s":2,"m":"I","x":0.265,"z":1.556},{"s":2,"m":"I","x":0.273,"z":1.473},{"s":2,"m":"I","x":0.28,"z":1.39},{"s":2,"m":"I","x":0.285,"z":1.307},{"s":2,"m":"I","x":0.29,"z":1.196},{"s":2,"m":"I","x":0.297,"z":1.085},{"s":2,"m":"I","x":0.307,"z":0.988},{"s":2,"m":"I","x":0.319,"z":0.905},{"s":2,"m":"I","x":0.328,"z":0.836},{"s":2,"m":"I","x":0.333,"z":0.787},{"s":2,"m":"I","x":0.328,"z":0.739},{"s":2,"m":"I","x":0.309,"z":0.669},{"s":2,"m":"I","x":0.285,"z":0.628},{"s":2,"m":"I","x":0.261,"z":0.586},{"s":2,"m":"I","x":0.247,"z":0.545},{"s":2,"m":"I","x":0.238,"z":0.503},
{"s":2,"m":"S","x":0.264,"z":1.993},{"s":2,"m":"S","x":0.265,"z":1.861},{"s":2,"m":"S","x":0.27,"z":1.722},{"s":2,"m":"S","x":0.274,"z":1.584},{"s":2,"m":"S","x":0.278,"z":1.473},{"s":2,"m":"S","x":0.279,"z":1.376},{"s":2,"m":"S","x":0.278,"z":1.279},{"s":2,"m":"S","x":0.279,"z":1.168},{"s":2,"m":"S","x":0.285,"z":1.071},{"s":2,"m":"S","x":0.297,"z":0.988},{"s":2,"m":"S","x":0.309,"z":0.919},{"s":2,"m":"S","x":0.32,"z":0.849},{"s":2,"m":"S","x":0.324,"z":0.808},{"s":2,"m":"S","x":0.321,"z":0.752},{"s":2,"m":"S","x":0.309,"z":0.697},{"s":2,"m":"S","x":0.285,"z":0.655},{"s":2,"m":"S","x":0.261,"z":0.614},{"s":2,"m":"S","x":0.243,"z":0.572},{"s":2,"m":"S","x":0.232,"z":0.503},
{"s":2,"m":"W","x":0.259,"z":1.993},{"s":2,"m":"W","x":0.262,"z":1.861},{"s":2,"m":"W","x":0.266,"z":1.722},{"s":2,"m":"W","x":0.27,"z":1.584},{"s":2,"m":"W","x":0.27,"z":1.445},{"s":2,"m":"W","x":0.271,"z":1.307},{"s":2,"m":"W","x":0.272,"z":1.168},{"s":2,"m":"W","x":0.276,"z":1.057},{"s":2,"m":"W","x":0.285,"z":0.988},{"s":2,"m":"W","x":0.297,"z":0.933},{"s":2,"m":"W","x":0.304,"z":0.863},{"s":2,"m":"W","x":0.306,"z":0.794},{"s":2,"m":"W","x":0.301,"z":0.739},{"s":2,"m":"W","x":0.285,"z":0.683},{"s":2,"m":"W","x":0.261,"z":0.641},{"s":2,"m":"W","x":0.241,"z":0.6},{"s":2,"m":"W","x":0.23,"z":0.558},{"s":2,"m":"W","x":0.226,"z":0.503},
{"s":2,"m":"Sl","x":0.242,"z":1.986},{"s":2,"m":"Sl","x":0.243,"z":1.847},{"s":2,"m":"Sl","x":0.244,"z":1.722},{"s":2,"m":"Sl","x":0.248,"z":1.584},{"s":2,"m":"Sl","x":0.254,"z":1.459},{"s":2,"m":"Sl","x":0.261,"z":1.334},{"s":2,"m":"Sl","x":0.267,"z":1.223},{"s":2,"m":"Sl","x":0.277,"z":1.099},{"s":2,"m":"Sl","x":0.288,"z":1.002},{"s":2,"m":"Sl","x":0.301,"z":0.919},{"s":2,"m":"Sl","x":0.315,"z":0.849},{"s":2,"m":"Sl","x":0.325,"z":0.794},{"s":2,"m":"Sl","x":0.33,"z":0.725},{"s":2,"m":"Sl","x":0.321,"z":0.697},{"s":2,"m":"Sl","x":0.297,"z":0.655},{"s":2,"m":"Sl","x":0.273,"z":0.628},{"s":2,"m":"Sl","x":0.249,"z":0.586},{"s":2,"m":"Sl","x":0.237,"z":0.531},{"s":2,"m":"Sl","x":0.232,"z":0.503},
{"s":2,"m":"Il","x":0.234,"z":1.986},{"s":2,"m":"Il","x":0.234,"z":1.861},{"s":2,"m":"Il","x":0.234,"z":1.722},{"s":2,"m":"Il","x":0.234,"z":1.584},{"s":2,"m":"Il","x":0.234,"z":1.445},{"s":2,"m":"Il","x":0.237,"z":1.334},{"s":2,"m":"Il","x":0.242,"z":1.223},{"s":2,"m":"Il","x":0.249,"z":1.099},{"s":2,"m":"Il","x":0.256,"z":0.988},{"s":2,"m":"Il","x":0.264,"z":0.891},{"s":2,"m":"Il","x":0.271,"z":0.808},{"s":2,"m":"Il","x":0.276,"z":0.739},{"s":2,"m":"Il","x":0.277,"z":0.711},{"s":2,"m":"Il","x":0.268,"z":0.669},{"s":2,"m":"Il","x":0.255,"z":0.614},{"s":2,"m":"Il","x":0.244,"z":0.558},{"s":2,"m":"Il","x":0.241,"z":0.517},
{"s":2,"m":"Wl","x":0.278,"z":1.986},{"s":2,"m":"Wl","x":0.279,"z":1.861},{"s":2,"m":"Wl","x":0.282,"z":1.722},{"s":2,"m":"Wl","x":0.284,"z":1.584},{"s":2,"m":"Wl","x":0.286,"z":1.473},{"s":2,"m":"Wl","x":0.289,"z":1.348},{"s":2,"m":"Wl","x":0.292,"z":1.223},{"s":2,"m":"Wl","x":0.296,"z":1.113},{"s":2,"m":"Wl","x":0.302,"z":1.002},{"s":2,"m":"Wl","x":0.308,"z":0.919},{"s":2,"m":"Wl","x":0.314,"z":0.849},{"s":2,"m":"Wl","x":0.316,"z":0.794},{"s":2,"m":"Wl","x":0.312,"z":0.739},{"s":2,"m":"Wl","x":0.297,"z":0.683},{"s":2,"m":"Wl","x":0.273,"z":0.641},{"s":2,"m":"Wl","x":0.255,"z":0.6},{"s":2,"m":"Wl","x":0.249,"z":0.545},{"s":2,"m":"Wl","x":0.252,"z":0.503},
{"s":2,"m":"E","x":0.255,"z":2},{"s":2,"m":"E","x":0.259,"z":1.861},{"s":2,"m":"E","x":0.269,"z":1.729},{"s":2,"m":"E","x":0.277,"z":1.598},{"s":2,"m":"E","x":0.281,"z":1.459},{"s":2,"m":"E","x":0.279,"z":1.327},{"s":2,"m":"E","x":0.281,"z":1.258},{"s":2,"m":"E","x":0.281,"z":1.189},{"s":2,"m":"E","x":0.288,"z":1.12},{"s":2,"m":"E","x":0.291,"z":1.05},{"s":2,"m":"E","x":0.296,"z":0.988},{"s":2,"m":"E","x":0.301,"z":0.926},{"s":2,"m":"E","x":0.302,"z":0.856},{"s":2,"m":"E","x":0.312,"z":0.787},{"s":2,"m":"E","x":0.291,"z":0.725},{"s":2,"m":"E","x":0.278,"z":0.69},{"s":2,"m":"E","x":0.248,"z":0.655},{"s":2,"m":"E","x":0.219,"z":0.621},
{"s":3,"m":"I","x":0.494,"z":1.993},{"s":3,"m":"I","x":0.49,"z":1.889},{"s":3,"m":"I","x":0.484,"z":1.805},{"s":3,"m":"I","x":0.483,"z":1.695},{"s":3,"m":"I","x":0.481,"z":1.584},{"s":3,"m":"I","x":0.48,"z":1.473},{"s":3,"m":"I","x":0.477,"z":1.362},{"s":3,"m":"I","x":0.474,"z":1.279},{"s":3,"m":"I","x":0.468,"z":1.196},{"s":3,"m":"I","x":0.462,"z":1.113},{"s":3,"m":"I","x":0.456,"z":1.03},{"s":3,"m":"I","x":0.449,"z":0.946},{"s":3,"m":"I","x":0.444,"z":0.863},{"s":3,"m":"I","x":0.441,"z":0.78},{"s":3,"m":"I","x":0.443,"z":0.697},{"s":3,"m":"I","x":0.448,"z":0.628},{"s":3,"m":"I","x":0.456,"z":0.572},{"s":3,"m":"I","x":0.468,"z":0.517},{"s":3,"m":"I","x":0.494,"z":0.475},{"s":3,"m":"I","x":0.526,"z":0.42},{"s":3,"m":"I","x":0.552,"z":0.364},{"s":3,"m":"I","x":0.569,"z":0.309},{"s":3,"m":"I","x":0.571,"z":0.267},{"s":3,"m":"I","x":0.565,"z":0.212},{"s":3,"m":"I","x":0.545,"z":0.143},{"s":3,"m":"I","x":0.524,"z":0.073},{"s":3,"m":"I","x":0.502,"z":0},
{"s":3,"m":"S","x":0.508,"z":1.993},{"s":3,"m":"S","x":0.504,"z":1.861},{"s":3,"m":"S","x":0.501,"z":1.736},{"s":3,"m":"S","x":0.497,"z":1.611},{"s":3,"m":"S","x":0.49,"z":1.514},{"s":3,"m":"S","x":0.481,"z":1.418},{"s":3,"m":"S","x":0.474,"z":1.334},{"s":3,"m":"S","x":0.466,"z":1.251},{"s":3,"m":"S","x":0.458,"z":1.14},{"s":3,"m":"S","x":0.452,"z":1.03},{"s":3,"m":"S","x":0.447,"z":0.932},{"s":3,"m":"S","x":0.446,"z":0.849},{"s":3,"m":"S","x":0.449,"z":0.766},{"s":3,"m":"S","x":0.453,"z":0.683},{"s":3,"m":"S","x":0.457,"z":0.586},{"s":3,"m":"S","x":0.462,"z":0.531},{"s":3,"m":"S","x":0.481,"z":0.489},{"s":3,"m":"S","x":0.52,"z":0.434},{"s":3,"m":"S","x":0.545,"z":0.378},{"s":3,"m":"S","x":0.558,"z":0.323},{"s":3,"m":"S","x":0.563,"z":0.267},{"s":3,"m":"S","x":0.558,"z":0.212},{"s":3,"m":"S","x":0.539,"z":0.143},{"s":3,"m":"S","x":0.52,"z":0.073},{"s":3,"m":"S","x":0.499,"z":0},
{"s":3,"m":"W","x":0.507,"z":1.993},{"s":3,"m":"W","x":0.503,"z":1.861},{"s":3,"m":"W","x":0.499,"z":1.736},{"s":3,"m":"W","x":0.494,"z":1.611},{"s":3,"m":"W","x":0.485,"z":1.487},{"s":3,"m":"W","x":0.474,"z":1.39},{"s":3,"m":"W","x":0.462,"z":1.307},{"s":3,"m":"W","x":0.452,"z":1.223},{"s":3,"m":"W","x":0.443,"z":1.113},{"s":3,"m":"W","x":0.436,"z":1.002},{"s":3,"m":"W","x":0.433,"z":0.891},{"s":3,"m":"W","x":0.434,"z":0.78},{"s":3,"m":"W","x":0.438,"z":0.683},{"s":3,"m":"W","x":0.447,"z":0.6},{"s":3,"m":"W","x":0.459,"z":0.531},{"s":3,"m":"W","x":0.488,"z":0.475},{"s":3,"m":"W","x":0.526,"z":0.42},{"s":3,"m":"W","x":0.558,"z":0.364},{"s":3,"m":"W","x":0.575,"z":0.295},{"s":3,"m":"W","x":0.574,"z":0.24},{"s":3,"m":"W","x":0.562,"z":0.17},{"s":3,"m":"W","x":0.539,"z":0.087},{"s":3,"m":"W","x":0.503,"z":0},
{"s":3,"m":"Sl","x":0.484,"z":1.986},{"s":3,"m":"Sl","x":0.48,"z":1.902},{"s":3,"m":"Sl","x":0.475,"z":1.778},{"s":3,"m":"Sl","x":0.467,"z":1.653},{"s":3,"m":"Sl","x":0.459,"z":1.528},{"s":3,"m":"Sl","x":0.453,"z":1.418},{"s":3,"m":"Sl","x":0.447,"z":1.293},{"s":3,"m":"Sl","x":0.439,"z":1.168},{"s":3,"m":"Sl","x":0.432,"z":1.03},{"s":3,"m":"Sl","x":0.427,"z":0.919},{"s":3,"m":"Sl","x":0.425,"z":0.808},{"s":3,"m":"Sl","x":0.427,"z":0.711},{"s":3,"m":"Sl","x":0.438,"z":0.6},{"s":3,"m":"Sl","x":0.456,"z":0.517},{"s":3,"m":"Sl","x":0.488,"z":0.475},{"s":3,"m":"Sl","x":0.52,"z":0.434},{"s":3,"m":"Sl","x":0.545,"z":0.378},{"s":3,"m":"Sl","x":0.561,"z":0.309},{"s":3,"m":"Sl","x":0.562,"z":0.253},{"s":3,"m":"Sl","x":0.556,"z":0.198},{"s":3,"m":"Sl","x":0.539,"z":0.129},{"s":3,"m":"Sl","x":0.499,"z":0},
{"s":3,"m":"Il","x":0.484,"z":1.972},{"s":3,"m":"Il","x":0.483,"z":1.861},{"s":3,"m":"Il","x":0.48,"z":1.736},{"s":3,"m":"Il","x":0.476,"z":1.611},{"s":3,"m":"Il","x":0.474,"z":1.487},{"s":3,"m":"Il","x":0.472,"z":1.362},{"s":3,"m":"Il","x":0.472,"z":1.237},{"s":3,"m":"Il","x":0.475,"z":1.14},{"s":3,"m":"Il","x":0.479,"z":1.03},{"s":3,"m":"Il","x":0.484,"z":0.919},{"s":3,"m":"Il","x":0.489,"z":0.808},{"s":3,"m":"Il","x":0.495,"z":0.711},{"s":3,"m":"Il","x":0.501,"z":0.6},{"s":3,"m":"Il","x":0.507,"z":0.503},{"s":3,"m":"Il","x":0.52,"z":0.434},{"s":3,"m":"Il","x":0.533,"z":0.351},{"s":3,"m":"Il","x":0.535,"z":0.295},{"s":3,"m":"Il","x":0.53,"z":0.226},{"s":3,"m":"Il","x":0.517,"z":0.157},{"s":3,"m":"Il","x":0.504,"z":0.087},{"s":3,"m":"Il","x":0.497,"z":0.004},
{"s":3,"m":"Wl","x":0.526,"z":1.986},{"s":3,"m":"Wl","x":0.522,"z":1.861},{"s":3,"m":"Wl","x":0.517,"z":1.736},{"s":3,"m":"Wl","x":0.511,"z":1.611},{"s":3,"m":"Wl","x":0.504,"z":1.501},{"s":3,"m":"Wl","x":0.497,"z":1.39},{"s":3,"m":"Wl","x":0.489,"z":1.279},{"s":3,"m":"Wl","x":0.481,"z":1.168},{"s":3,"m":"Wl","x":0.472,"z":1.071},{"s":3,"m":"Wl","x":0.465,"z":0.974},{"s":3,"m":"Wl","x":0.459,"z":0.891},{"s":3,"m":"Wl","x":0.457,"z":0.808},{"s":3,"m":"Wl","x":0.458,"z":0.711},{"s":3,"m":"Wl","x":0.465,"z":0.628},{"s":3,"m":"Wl","x":0.475,"z":0.545},{"s":3,"m":"Wl","x":0.507,"z":0.475},{"s":3,"m":"Wl","x":0.539,"z":0.42},{"s":3,"m":"Wl","x":0.565,"z":0.351},{"s":3,"m":"Wl","x":0.575,"z":0.295},{"s":3,"m":"Wl","x":0.572,"z":0.24},{"s":3,"m":"Wl","x":0.562,"z":0.17},{"s":3,"m":"Wl","x":0.533,"z":0.087},{"s":3,"m":"Wl","x":0.501,"z":0},
{"s":3,"m":"E","x":0.501,"z":2},{"s":3,"m":"E","x":0.498,"z":1.861},{"s":3,"m":"E","x":0.494,"z":1.736},{"s":3,"m":"E","x":0.487,"z":1.591},{"s":3,"m":"E","x":0.481,"z":1.459},{"s":3,"m":"E","x":0.481,"z":1.327},{"s":3,"m":"E","x":0.468,"z":1.189},{"s":3,"m":"E","x":0.454,"z":1.058},{"s":3,"m":"E","x":0.451,"z":0.988},{"s":3,"m":"E","x":0.445,"z":0.926},{"s":3,"m":"E","x":0.445,"z":0.856},{"s":3,"m":"E","x":0.439,"z":0.787},{"s":3,"m":"E","x":0.451,"z":0.725},{"s":3,"m":"E","x":0.454,"z":0.655},{"s":3,"m":"E","x":0.457,"z":0.593},{"s":3,"m":"E","x":0.467,"z":0.524},{"s":3,"m":"E","x":0.54,"z":0.455},{"s":3,"m":"E","x":0.585,"z":0.392},{"s":3,"m":"E","x":0.601,"z":0.33},{"s":3,"m":"E","x":0.597,"z":0.253},{"s":3,"m":"E","x":0.573,"z":0.184},{"s":3,"m":"E","x":0.549,"z":0.115},{"s":3,"m":"E","x":0.522,"z":0.053},
{"s":4,"m":"I","x":0.743,"z":1.993},{"s":4,"m":"I","x":0.74,"z":1.889},{"s":4,"m":"I","x":0.732,"z":1.792},{"s":4,"m":"I","x":0.73,"z":1.667},{"s":4,"m":"I","x":0.728,"z":1.528},{"s":4,"m":"I","x":0.723,"z":1.404},{"s":4,"m":"I","x":0.718,"z":1.32},{"s":4,"m":"I","x":0.711,"z":1.223},{"s":4,"m":"I","x":0.699,"z":1.085},{"s":4,"m":"I","x":0.687,"z":0.96},{"s":4,"m":"I","x":0.675,"z":0.836},{"s":4,"m":"I","x":0.663,"z":0.725},{"s":4,"m":"I","x":0.651,"z":0.641},{"s":4,"m":"I","x":0.639,"z":0.558},{"s":4,"m":"I","x":0.632,"z":0.489},{"s":4,"m":"I","x":0.637,"z":0.434},{"s":4,"m":"I","x":0.657,"z":0.364},{"s":4,"m":"I","x":0.687,"z":0.295},{"s":4,"m":"I","x":0.717,"z":0.226},{"s":4,"m":"I","x":0.738,"z":0.157},{"s":4,"m":"I","x":0.753,"z":0.06},{"s":4,"m":"I","x":0.758,"z":0},
{"s":4,"m":"S","x":0.758,"z":1.986},{"s":4,"m":"S","x":0.754,"z":1.861},{"s":4,"m":"S","x":0.749,"z":1.778},{"s":4,"m":"S","x":0.743,"z":1.653},{"s":4,"m":"S","x":0.735,"z":1.528},{"s":4,"m":"S","x":0.723,"z":1.39},{"s":4,"m":"S","x":0.711,"z":1.265},{"s":4,"m":"S","x":0.696,"z":1.113},{"s":4,"m":"S","x":0.682,"z":0.96},{"s":4,"m":"S","x":0.668,"z":0.808},{"s":4,"m":"S","x":0.656,"z":0.669},{"s":4,"m":"S","x":0.646,"z":0.558},{"s":4,"m":"S","x":0.645,"z":0.489},{"s":4,"m":"S","x":0.657,"z":0.406},{"s":4,"m":"S","x":0.681,"z":0.337},{"s":4,"m":"S","x":0.711,"z":0.253},{"s":4,"m":"S","x":0.735,"z":0.184},{"s":4,"m":"S","x":0.753,"z":0.115},{"s":4,"m":"S","x":0.765,"z":0.032},{"s":4,"m":"S","x":0.768,"z":0},
{"s":4,"m":"W","x":0.756,"z":1.986},{"s":4,"m":"W","x":0.75,"z":1.861},{"s":4,"m":"W","x":0.744,"z":1.722},{"s":4,"m":"W","x":0.735,"z":1.584},{"s":4,"m":"W","x":0.723,"z":1.404},{"s":4,"m":"W","x":0.711,"z":1.307},{"s":4,"m":"W","x":0.699,"z":1.196},{"s":4,"m":"W","x":0.684,"z":1.057},{"s":4,"m":"W","x":0.669,"z":0.891},{"s":4,"m":"W","x":0.654,"z":0.725},{"s":4,"m":"W","x":0.644,"z":0.586},{"s":4,"m":"W","x":0.643,"z":0.517},{"s":4,"m":"W","x":0.657,"z":0.42},{"s":4,"m":"W","x":0.681,"z":0.337},{"s":4,"m":"W","x":0.705,"z":0.226},{"s":4,"m":"W","x":0.729,"z":0.143},{"s":4,"m":"W","x":0.753,"z":0.06},{"s":4,"m":"W","x":0.766,"z":0},
{"s":4,"m":"Sl","x":0.731,"z":1.972},{"s":4,"m":"Sl","x":0.726,"z":1.819},{"s":4,"m":"Sl","x":0.718,"z":1.681},{"s":4,"m":"Sl","x":0.71,"z":1.57},{"s":4,"m":"Sl","x":0.701,"z":1.445},{"s":4,"m":"Sl","x":0.693,"z":1.334},{"s":4,"m":"Sl","x":0.684,"z":1.223},{"s":4,"m":"Sl","x":0.677,"z":1.113},{"s":4,"m":"Sl","x":0.669,"z":1.002},{"s":4,"m":"Sl","x":0.661,"z":0.919},{"s":4,"m":"Sl","x":0.652,"z":0.822},{"s":4,"m":"Sl","x":0.643,"z":0.725},{"s":4,"m":"Sl","x":0.633,"z":0.641},{"s":4,"m":"Sl","x":0.625,"z":0.586},{"s":4,"m":"Sl","x":0.621,"z":0.503},{"s":4,"m":"Sl","x":0.629,"z":0.434},{"s":4,"m":"Sl","x":0.643,"z":0.392},{"s":4,"m":"Sl","x":0.669,"z":0.309},{"s":4,"m":"Sl","x":0.689,"z":0.226},{"s":4,"m":"Sl","x":0.706,"z":0.17},{"s":4,"m":"Sl","x":0.728,"z":0.087},{"s":4,"m":"Sl","x":0.747,"z":0.004},
{"s":4,"m":"Il","x":0.734,"z":1.972},{"s":4,"m":"Il","x":0.73,"z":1.819},{"s":4,"m":"Il","x":0.728,"z":1.667},{"s":4,"m":"Il","x":0.723,"z":1.528},{"s":4,"m":"Il","x":0.719,"z":1.39},{"s":4,"m":"Il","x":0.718,"z":1.251},{"s":4,"m":"Il","x":0.719,"z":1.113},{"s":4,"m":"Il","x":0.722,"z":0.974},{"s":4,"m":"Il","x":0.726,"z":0.836},{"s":4,"m":"Il","x":0.734,"z":0.725},{"s":4,"m":"Il","x":0.742,"z":0.614},{"s":4,"m":"Il","x":0.753,"z":0.503},{"s":4,"m":"Il","x":0.76,"z":0.406},{"s":4,"m":"Il","x":0.764,"z":0.309},{"s":4,"m":"Il","x":0.762,"z":0.226},{"s":4,"m":"Il","x":0.758,"z":0.157},{"s":4,"m":"Il","x":0.75,"z":0.087},{"s":4,"m":"Il","x":0.746,"z":0.004},
{"s":4,"m":"Wl","x":0.774,"z":1.972},{"s":4,"m":"Wl","x":0.77,"z":1.833},{"s":4,"m":"Wl","x":0.764,"z":1.695},{"s":4,"m":"Wl","x":0.756,"z":1.556},{"s":4,"m":"Wl","x":0.749,"z":1.445},{"s":4,"m":"Wl","x":0.742,"z":1.334},{"s":4,"m":"Wl","x":0.735,"z":1.223},{"s":4,"m":"Wl","x":0.725,"z":1.113},{"s":4,"m":"Wl","x":0.713,"z":1.002},{"s":4,"m":"Wl","x":0.701,"z":0.933},{"s":4,"m":"Wl","x":0.689,"z":0.836},{"s":4,"m":"Wl","x":0.68,"z":0.725},{"s":4,"m":"Wl","x":0.671,"z":0.614},{"s":4,"m":"Wl","x":0.665,"z":0.531},{"s":4,"m":"Wl","x":0.673,"z":0.462},{"s":4,"m":"Wl","x":0.687,"z":0.406},{"s":4,"m":"Wl","x":0.711,"z":0.337},{"s":4,"m":"Wl","x":0.735,"z":0.267},{"s":4,"m":"Wl","x":0.747,"z":0.17},{"s":4,"m":"Wl","x":0.756,"z":0.087},{"s":4,"m":"Wl","x":0.765,"z":0},
{"s":4,"m":"E","x":0.758,"z":2},{"s":4,"m":"E","x":0.758,"z":1.861},{"s":4,"m":"E","x":0.753,"z":1.729},{"s":4,"m":"E","x":0.742,"z":1.598},{"s":4,"m":"E","x":0.737,"z":1.466},{"s":4,"m":"E","x":0.73,"z":1.327},{"s":4,"m":"E","x":0.716,"z":1.196},{"s":4,"m":"E","x":0.704,"z":1.064},{"s":4,"m":"E","x":0.689,"z":0.995},{"s":4,"m":"E","x":0.682,"z":0.926},{"s":4,"m":"E","x":0.675,"z":0.856},{"s":4,"m":"E","x":0.67,"z":0.787},{"s":4,"m":"E","x":0.659,"z":0.725},{"s":4,"m":"E","x":0.654,"z":0.655},{"s":4,"m":"E","x":0.647,"z":0.593},{"s":4,"m":"E","x":0.635,"z":0.524},{"s":4,"m":"E","x":0.629,"z":0.455},{"s":4,"m":"E","x":0.627,"z":0.386},{"s":4,"m":"E","x":0.647,"z":0.323},{"s":4,"m":"E","x":0.659,"z":0.254},{"s":4,"m":"E","x":0.699,"z":0.184},{"s":4,"m":"E","x":0.723,"z":0.115},{"s":4,"m":"E","x":0.742,"z":0.053},
{"s":5,"m":"I","x":0.991,"z":1.993},{"s":5,"m":"I","x":0.988,"z":1.861},{"s":5,"m":"I","x":0.985,"z":1.722},{"s":5,"m":"I","x":0.984,"z":1.584},{"s":5,"m":"I","x":0.982,"z":1.473},{"s":5,"m":"I","x":0.979,"z":1.362},{"s":5,"m":"I","x":0.973,"z":1.251},{"s":5,"m":"I","x":0.964,"z":1.14},{"s":5,"m":"I","x":0.954,"z":1.03},{"s":5,"m":"I","x":0.943,"z":0.919},{"s":5,"m":"I","x":0.931,"z":0.836},{"s":5,"m":"I","x":0.918,"z":0.766},{"s":5,"m":"I","x":0.909,"z":0.697},{"s":5,"m":"I","x":0.903,"z":0.614},{"s":5,"m":"I","x":0.9,"z":0.531},{"s":5,"m":"I","x":0.903,"z":0.448},{"s":5,"m":"I","x":0.911,"z":0.378},{"s":5,"m":"I","x":0.918,"z":0.295},{"s":5,"m":"I","x":0.928,"z":0.212},{"s":5,"m":"I","x":0.943,"z":0.143},{"s":5,"m":"I","x":0.961,"z":0.073},{"s":5,"m":"I","x":0.984,"z":0},
{"s":5,"m":"S","x":1.007,"z":1.993},{"s":5,"m":"S","x":1.003,"z":1.889},{"s":5,"m":"S","x":1.002,"z":1.778},{"s":5,"m":"S","x":0.999,"z":1.667},{"s":5,"m":"S","x":0.997,"z":1.584},{"s":5,"m":"S","x":0.991,"z":1.514},{"s":5,"m":"S","x":0.984,"z":1.418},{"s":5,"m":"S","x":0.976,"z":1.307},{"s":5,"m":"S","x":0.967,"z":1.196},{"s":5,"m":"S","x":0.958,"z":1.085},{"s":5,"m":"S","x":0.947,"z":0.974},{"s":5,"m":"S","x":0.935,"z":0.863},{"s":5,"m":"S","x":0.921,"z":0.766},{"s":5,"m":"S","x":0.909,"z":0.697},{"s":5,"m":"S","x":0.903,"z":0.628},{"s":5,"m":"S","x":0.901,"z":0.545},{"s":5,"m":"S","x":0.909,"z":0.462},{"s":5,"m":"S","x":0.925,"z":0.378},{"s":5,"m":"S","x":0.947,"z":0.281},{"s":5,"m":"S","x":0.973,"z":0.17},{"s":5,"m":"S","x":0.997,"z":0.087},{"s":5,"m":"S","x":1.014,"z":0},
{"s":5,"m":"W","x":1.011,"z":1.993},{"s":5,"m":"W","x":1.007,"z":1.861},{"s":5,"m":"W","x":1.003,"z":1.75},{"s":5,"m":"W","x":0.999,"z":1.639},{"s":5,"m":"W","x":0.993,"z":1.542},{"s":5,"m":"W","x":0.984,"z":1.431},{"s":5,"m":"W","x":0.975,"z":1.32},{"s":5,"m":"W","x":0.965,"z":1.21},{"s":5,"m":"W","x":0.955,"z":1.099},{"s":5,"m":"W","x":0.945,"z":0.988},{"s":5,"m":"W","x":0.934,"z":0.877},{"s":5,"m":"W","x":0.922,"z":0.766},{"s":5,"m":"W","x":0.911,"z":0.669},{"s":5,"m":"W","x":0.904,"z":0.572},{"s":5,"m":"W","x":0.9,"z":0.489},{"s":5,"m":"W","x":0.907,"z":0.42},{"s":5,"m":"W","x":0.925,"z":0.351},{"s":5,"m":"W","x":0.947,"z":0.253},{"s":5,"m":"W","x":0.971,"z":0.157},{"s":5,"m":"W","x":0.997,"z":0.06},{"s":5,"m":"W","x":1.018,"z":0},
{"s":5,"m":"Sl","x":0.985,"z":1.986},{"s":5,"m":"Sl","x":0.982,"z":1.861},{"s":5,"m":"Sl","x":0.976,"z":1.722},{"s":5,"m":"Sl","x":0.969,"z":1.598},{"s":5,"m":"Sl","x":0.961,"z":1.473},{"s":5,"m":"Sl","x":0.955,"z":1.362},{"s":5,"m":"Sl","x":0.948,"z":1.251},{"s":5,"m":"Sl","x":0.94,"z":1.126},{"s":5,"m":"Sl","x":0.931,"z":1.016},{"s":5,"m":"Sl","x":0.923,"z":0.919},{"s":5,"m":"Sl","x":0.912,"z":0.808},{"s":5,"m":"Sl","x":0.901,"z":0.725},{"s":5,"m":"Sl","x":0.893,"z":0.669},{"s":5,"m":"Sl","x":0.881,"z":0.586},{"s":5,"m":"Sl","x":0.874,"z":0.503},{"s":5,"m":"Sl","x":0.873,"z":0.448},{"s":5,"m":"Sl","x":0.877,"z":0.364},{"s":5,"m":"Sl","x":0.887,"z":0.281},{"s":5,"m":"Sl","x":0.901,"z":0.226},{"s":5,"m":"Sl","x":0.919,"z":0.17},{"s":5,"m":"Sl","x":0.945,"z":0.115},{"s":5,"m":"Sl","x":0.967,"z":0.06},{"s":5,"m":"Sl","x":0.985,"z":0.004},
{"s":5,"m":"Il","x":0.983,"z":1.958},{"s":5,"m":"Il","x":0.981,"z":1.819},{"s":5,"m":"Il","x":0.975,"z":1.681},{"s":5,"m":"Il","x":0.97,"z":1.556},{"s":5,"m":"Il","x":0.966,"z":1.418},{"s":5,"m":"Il","x":0.964,"z":1.279},{"s":5,"m":"Il","x":0.96,"z":1.14},{"s":5,"m":"Il","x":0.959,"z":1.002},{"s":5,"m":"Il","x":0.96,"z":0.863},{"s":5,"m":"Il","x":0.961,"z":0.725},{"s":5,"m":"Il","x":0.961,"z":0.586},{"s":5,"m":"Il","x":0.967,"z":0.503},{"s":5,"m":"Il","x":0.979,"z":0.434},{"s":5,"m":"Il","x":0.991,"z":0.351},{"s":5,"m":"Il","x":1.003,"z":0.253},{"s":5,"m":"Il","x":1.012,"z":0.17},{"s":5,"m":"Il","x":1.017,"z":0.087},{"s":5,"m":"Il","x":1.019,"z":0.004},
{"s":5,"m":"Wl","x":1.027,"z":1.972},{"s":5,"m":"Wl","x":1.024,"z":1.805},{"s":5,"m":"Wl","x":1.018,"z":1.667},{"s":5,"m":"Wl","x":1.012,"z":1.556},{"s":5,"m":"Wl","x":1.005,"z":1.431},{"s":5,"m":"Wl","x":0.996,"z":1.32},{"s":5,"m":"Wl","x":0.985,"z":1.223},{"s":5,"m":"Wl","x":0.976,"z":1.126},{"s":5,"m":"Wl","x":0.965,"z":1.03},{"s":5,"m":"Wl","x":0.954,"z":0.946},{"s":5,"m":"Wl","x":0.942,"z":0.863},{"s":5,"m":"Wl","x":0.93,"z":0.78},{"s":5,"m":"Wl","x":0.919,"z":0.711},{"s":5,"m":"Wl","x":0.913,"z":0.641},{"s":5,"m":"Wl","x":0.91,"z":0.572},{"s":5,"m":"Wl","x":0.913,"z":0.503},{"s":5,"m":"Wl","x":0.925,"z":0.42},{"s":5,"m":"Wl","x":0.943,"z":0.323},{"s":5,"m":"Wl","x":0.967,"z":0.226},{"s":5,"m":"Wl","x":0.991,"z":0.129},{"s":5,"m":"Wl","x":1.009,"z":0.046},{"s":5,"m":"Wl","x":1.018,"z":0},
{"s":5,"m":"E","x":1.002,"z":2.02},{"s":5,"m":"E","x":0.999,"z":1.93},{"s":5,"m":"E","x":0.997,"z":1.798},{"s":5,"m":"E","x":0.994,"z":1.66},{"s":5,"m":"E","x":0.996,"z":1.521},{"s":5,"m":"E","x":0.987,"z":1.39},{"s":5,"m":"E","x":0.977,"z":1.265},{"s":5,"m":"E","x":0.965,"z":1.12},{"s":5,"m":"E","x":0.951,"z":0.988},{"s":5,"m":"E","x":0.94,"z":0.926},{"s":5,"m":"E","x":0.933,"z":0.856},{"s":5,"m":"E","x":0.918,"z":0.787},{"s":5,"m":"E","x":0.912,"z":0.725},{"s":5,"m":"E","x":0.901,"z":0.662},{"s":5,"m":"E","x":0.895,"z":0.593},{"s":5,"m":"E","x":0.881,"z":0.524},{"s":5,"m":"E","x":0.879,"z":0.462},{"s":5,"m":"E","x":0.878,"z":0.392},{"s":5,"m":"E","x":0.885,"z":0.323},{"s":5,"m":"E","x":0.897,"z":0.254},{"s":5,"m":"E","x":0.924,"z":0.184},{"s":5,"m":"E","x":0.945,"z":0.115},{"s":5,"m":"E","x":0.976,"z":0.053}
],
"labA": [{"x":0.0147,"z":2.064,"t":"x/H=1.2"},{"x":0.256,"z":2.064,"t":"x/H=1.8"},{"x":0.5,"z":2.064,"t":"x/H=2.8"},{"x":0.758,"z":2.064,"t":"x/H=3.2"},{"x":1.0024,"z":2.064,"t":"x/H=3.8"}],
"labB": [{"x":0.014,"z":2.066,"t":"x/H=1.2"},{"x":0.256,"z":2.066,"t":"x/H=1.8"},{"x":0.4996,"z":2.066,"t":"x/H=2.8"},{"x":0.757,"z":2.066,"t":"x/H=3.2"},{"x":1.0025,"z":2.066,"t":"x/H=3.8"}],
"one": [{}]
},
"vconcat": [
{
"width": 3261, "height": 1634,
"data": {"name": "a"},
"resolve": {"axis": {"x": "independent", "y": "independent"}},
"layer": [
{"transform": [{"filter": "datum.m == 'E'"}],
 "mark": {"type": "square", "size": 900, "stroke": "#8db443", "strokeWidth": 3, "opacity": 1},
 "encoding": {
  "x": {"field": "x", "type": "quantitative", "scale": {"domain": [-0.05, 1.1], "nice": false, "zero": false}, "axis": null},
  "y": {"field": "z", "type": "quantitative", "scale": {"domain": [0, 2.4], "nice": false, "zero": false}, "axis": null},
  "fill": {"datum": "Exp", "type": "nominal", "scale": {"range": ["#f2ec30"]}, "legend": {"orient": "none", "legendX": 68, "legendY": 52, "title": null, "padding": 0, "symbolType": "square", "symbolSize": 1000, "symbolStrokeColor": "#8db443", "symbolStrokeWidth": 3, "labelFontSize": 56, "labelOffset": 14, "labelFont": "Liberation Sans", "labelColor": "#1a1a1a"}}
 }},
{"transform": [{"filter": "datum.m != 'E'"}],
 "mark": {"type": "line", "strokeWidth": 5, "interpolate": "catmull-rom"},
 "encoding": {
  "x": {"field": "x", "type": "quantitative", "scale": {"domain": [-0.05, 1.1], "nice": false, "zero": false},
   "axis": {"orient": "bottom", "values": [0, 0.2, 0.4, 0.6, 0.8, 1], "ticks": false, "domain": true, "domainWidth": 5, "domainColor": "#000", "labelFontSize": 62, "labelFont": "Liberation Sans", "labelColor": "#1a1a1a", "labelPadding": 18, "labelFlush": false, "labelOverlap": false, "labelExpr": "format(datum.value, '~g')", "grid": false, "title": "w\u0304/U", "titleFont": "Liberation Sans", "titleFontSize": 76, "titleFontWeight": "normal", "titleColor": "#1a1a1a", "titleX": 1564, "titleY": 87, "titleBaseline": "middle", "titleAlign": "center"}},
  "y": {"field": "z", "type": "quantitative", "scale": {"domain": [0, 2.4], "nice": false, "zero": false},
   "axis": {"orient": "left", "values": [0, 0.5, 1, 1.5, 2], "ticks": false, "domain": true, "domainWidth": 5, "domainColor": "#000", "labelFontSize": 62, "labelFont": "Liberation Sans", "labelColor": "#1a1a1a", "labelPadding": 48, "labelFlush": false, "labelOverlap": false, "labelExpr": "format(datum.value, '~g')", "grid": false, "title": "z/H", "titleFont": "Liberation Sans", "titleFontSize": 76, "titleFontWeight": "normal", "titleColor": "#1a1a1a", "titleAngle": 0, "titleX": -95, "titleY": 775, "titleAlign": "center", "titleBaseline": "middle"}},
  "color": {"field": "m", "type": "nominal", "scale": {"domain": ["I", "Il", "W", "Wl", "S", "Sl"], "range": ["#e3342f", "#e3342f", "#34b04a", "#34b04a", "#111111", "#111111"]},
   "legend": {"orient": "none", "legendX": 540, "legendY": 24, "title": null, "columns": 3, "columnPadding": 75, "rowPadding": 9, "padding": 0, "symbolType": "M-4,0L4,0", "symbolSize": 2139, "symbolStrokeWidth": 7, "labelFontSize": 56, "labelOffset": 94, "labelLimit": 2000, "labelFont": "Liberation Sans", "labelColor": "#1a1a1a", "labelExpr": "{I:'IDDES model', W:'WMLES model', S:'One-Eq.-SAS model', Il:'with low mesh density', Wl:'with low mesh density', Sl:'with low mesh density'}[datum.value]",
    "encode": {"symbols": {"update": {"x": {"signal": "(datum.value == 'S' || datum.value == 'Sl') ? 205 : 27"}}}, "labels": {"update": {"dx": {"signal": "(datum.value == 'S' || datum.value == 'Sl') ? 178 : ((datum.value == 'W' || datum.value == 'Wl') ? 28 : 0)"}}}}}},
  "strokeDash": {"field": "m", "type": "nominal", "scale": {"domain": ["I", "Il", "W", "Wl", "S", "Sl"], "range": [[1, 0], [36, 16, 5, 16], [1, 0], [34, 12, 5, 12, 5, 12], [1, 0], [38, 28]]},
   "legend": {"orient": "none", "legendX": 540, "legendY": 24, "title": null, "columns": 3, "columnPadding": 75, "rowPadding": 9, "padding": 0, "symbolType": "M-4,0L4,0", "symbolSize": 2139, "symbolStrokeWidth": 7, "labelFontSize": 56, "labelOffset": 94, "labelLimit": 2000, "labelFont": "Liberation Sans", "labelColor": "#1a1a1a", "labelExpr": "{I:'IDDES model', W:'WMLES model', S:'One-Eq.-SAS model', Il:'with low mesh density', Wl:'with low mesh density', Sl:'with low mesh density'}[datum.value]",
    "encode": {"symbols": {"update": {"x": {"signal": "(datum.value == 'S' || datum.value == 'Sl') ? 205 : 27"}}}, "labels": {"update": {"dx": {"signal": "(datum.value == 'S' || datum.value == 'Sl') ? 178 : ((datum.value == 'W' || datum.value == 'Wl') ? 28 : 0)"}}}}}},
  "detail": {"field": "s", "type": "nominal"},
  "order": {"field": "z", "type": "quantitative", "sort": "descending"}
 }},
{"data": {"name": "labA"},
 "mark": {"type": "text", "fontSize": 48, "font": "Liberation Sans", "color": "#1a1a1a", "baseline": "middle", "align": "center"},
 "encoding": {
  "x": {"field": "x", "type": "quantitative", "scale": {"domain": [-0.05, 1.1], "nice": false, "zero": false}, "axis": {"orient": "bottom", "values": [0, 0.2, 0.4, 0.6, 0.8, 1], "labels": false, "domain": false, "ticks": true, "tickSize": -42, "tickWidth": 4, "tickColor": "#000", "grid": false, "title": null}},
  "y": {"field": "z", "type": "quantitative", "scale": {"domain": [0, 2.4], "nice": false, "zero": false}, "axis": {"orient": "left", "values": [0, 0.5, 1, 1.5, 2], "labels": false, "domain": false, "ticks": true, "tickSize": -38, "tickWidth": 4, "tickColor": "#000", "grid": false, "title": null}},
  "text": {"field": "t", "type": "nominal"}
 }},
{"data": {"name": "one"},
 "mark": {"type": "text", "text": "b", "fontSize": 52, "font": "Liberation Sans", "color": "#1a1a1a", "baseline": "middle", "align": "center"},
 "encoding": {
  "x": {"datum": 0.5277, "type": "quantitative", "scale": {"domain": [-0.05, 1.1], "nice": false, "zero": false}, "axis": {"orient": "bottom", "values": [0.05, 0.1, 0.15, 0.2, 0.25, 0.3, 0.35, 0.4, 0.45, 0.5, 0.55, 0.6, 0.65, 0.7, 0.75, 0.8, 0.85, 0.9, 0.95, 1, 1.05], "labels": false, "domain": false, "ticks": true, "tickSize": -24, "tickWidth": 2.5, "tickColor": "#333", "grid": false, "title": null}},
  "y": {"datum": -0.153, "type": "quantitative", "scale": {"domain": [0, 2.4], "nice": false, "zero": false}, "axis": {"orient": "left", "values": [0.1, 0.2, 0.3, 0.4, 0.5, 0.6, 0.7, 0.8, 0.9, 1, 1.1, 1.2, 1.3, 1.4, 1.5, 1.6, 1.7, 1.8, 1.9, 2, 2.1, 2.2, 2.3, 2.4], "labels": false, "domain": false, "ticks": true, "tickSize": -20, "tickWidth": 2.5, "tickColor": "#333", "grid": false, "title": null}}
 }},
{"data": {"name": "one"},
 "mark": {"type": "text", "text": "a)", "fontSize": 62, "font": "Liberation Sans", "color": "#1a1a1a", "baseline": "middle", "align": "center"},
 "encoding": {
  "x": {"datum": -0.059, "type": "quantitative", "scale": {"domain": [-0.05, 1.1], "nice": false, "zero": false}, "axis": null},
  "y": {"datum": -0.098, "type": "quantitative", "scale": {"domain": [0, 2.4], "nice": false, "zero": false}, "axis": null}
 }}
]
},
{
"width": 3218, "height": 1613,
"data": {"name": "b"},
"resolve": {"axis": {"x": "independent", "y": "independent"}},
"layer": [
{"transform": [{"filter": "datum.m == 'E'"}],
 "mark": {"type": "square", "size": 900, "stroke": "#8db443", "strokeWidth": 3, "opacity": 1},
 "encoding": {
  "x": {"field": "x", "type": "quantitative", "scale": {"domain": [-0.0576, 1.1], "nice": false, "zero": false}, "axis": null},
  "y": {"field": "z", "type": "quantitative", "scale": {"domain": [0, 2.4], "nice": false, "zero": false}, "axis": null},
  "fill": {"datum": "Exp", "type": "nominal", "scale": {"range": ["#f2ec30"]}, "legend": {"orient": "none", "legendX": 98, "legendY": 55, "title": null, "padding": 0, "symbolType": "square", "symbolSize": 1000, "symbolStrokeColor": "#8db443", "symbolStrokeWidth": 3, "labelFontSize": 56, "labelOffset": 16, "labelFont": "Liberation Sans", "labelColor": "#1a1a1a"}}
 }},
{"transform": [{"filter": "datum.m != 'E'"}],
 "mark": {"type": "line", "strokeWidth": 5, "interpolate": "catmull-rom"},
 "encoding": {
  "x": {"field": "x", "type": "quantitative", "scale": {"domain": [-0.0576, 1.1], "nice": false, "zero": false},
   "axis": {"orient": "bottom", "values": [0, 0.2, 0.4, 0.6, 0.8, 1], "ticks": false, "domain": true, "domainWidth": 5, "domainColor": "#000", "labelFontSize": 62, "labelFont": "Liberation Sans", "labelColor": "#1a1a1a", "labelPadding": 18, "labelFlush": false, "labelOverlap": false, "labelExpr": "datum.value == 0.6 ? '0 6' : format(datum.value, '~g')", "grid": false, "title": "w/U", "titleFont": "Liberation Sans", "titleFontSize": 76, "titleFontWeight": "normal", "titleColor": "#1a1a1a", "titleX": 1567, "titleY": 84, "titleBaseline": "middle", "titleAlign": "center"}},
  "y": {"field": "z", "type": "quantitative", "scale": {"domain": [0, 2.4], "nice": false, "zero": false},
   "axis": {"orient": "left", "values": [0, 0.5, 1, 1.5, 2], "ticks": false, "domain": true, "domainWidth": 5, "domainColor": "#000", "labelFontSize": 62, "labelFont": "Liberation Sans", "labelColor": "#1a1a1a", "labelPadding": 18, "labelFlush": false, "labelOverlap": false, "labelExpr": "format(datum.value, '~g')", "grid": false, "title": "z/H", "titleFont": "Liberation Sans", "titleFontSize": 76, "titleFontWeight": "normal", "titleColor": "#1a1a1a", "titleAngle": 0, "titleX": -69, "titleY": 767, "titleAlign": "center", "titleBaseline": "middle"}},
  "color": {"field": "m", "type": "nominal", "scale": {"domain": ["I", "Il", "W", "Wl", "S", "Sl"], "range": ["#e3342f", "#e3342f", "#34b04a", "#34b04a", "#111111", "#111111"]},
   "legend": {"orient": "none", "legendX": 563, "legendY": 28, "title": null, "columns": 3, "columnPadding": 111, "rowPadding": 8, "padding": 0, "symbolType": "M-4,0L4,0", "symbolSize": 2093, "symbolStrokeWidth": 7, "labelFontSize": 56, "labelOffset": 92, "labelLimit": 2000, "labelFont": "Liberation Sans", "labelColor": "#1a1a1a", "labelExpr": "{I:'IDDES model', W:'WMLES model', S:'One-Eq.-SAS model', Il:'with mesh clustering', Wl:'with mesh clustering', Sl:'with mesh clustering'}[datum.value]",
    "encode": {"symbols": {"update": {"x": {"signal": "(datum.value == 'S' || datum.value == 'Sl') ? 190.5 : 26.5"}}}, "labels": {"update": {"dx": {"signal": "(datum.value == 'S' || datum.value == 'Sl') ? 166 : ((datum.value == 'W' || datum.value == 'Wl') ? 16 : 0)"}}}}}},
  "strokeDash": {"field": "m", "type": "nominal", "scale": {"domain": ["I", "Il", "W", "Wl", "S", "Sl"], "range": [[1, 0], [36, 16, 5, 16], [1, 0], [34, 12, 5, 12, 5, 12], [1, 0], [38, 28]]},
   "legend": {"orient": "none", "legendX": 563, "legendY": 28, "title": null, "columns": 3, "columnPadding": 111, "rowPadding": 8, "padding": 0, "symbolType": "M-4,0L4,0", "symbolSize": 2093, "symbolStrokeWidth": 7, "labelFontSize": 56, "labelOffset": 92, "labelLimit": 2000, "labelFont": "Liberation Sans", "labelColor": "#1a1a1a", "labelExpr": "{I:'IDDES model', W:'WMLES model', S:'One-Eq.-SAS model', Il:'with mesh clustering', Wl:'with mesh clustering', Sl:'with mesh clustering'}[datum.value]",
    "encode": {"symbols": {"update": {"x": {"signal": "(datum.value == 'S' || datum.value == 'Sl') ? 190.5 : 26.5"}}}, "labels": {"update": {"dx": {"signal": "(datum.value == 'S' || datum.value == 'Sl') ? 166 : ((datum.value == 'W' || datum.value == 'Wl') ? 16 : 0)"}}}}}},
  "detail": {"field": "s", "type": "nominal"},
  "order": {"field": "z", "type": "quantitative", "sort": "descending"}
 }},
{"data": {"name": "labB"},
 "mark": {"type": "text", "fontSize": 48, "font": "Liberation Sans", "color": "#1a1a1a", "baseline": "middle", "align": "center"},
 "encoding": {
  "x": {"field": "x", "type": "quantitative", "scale": {"domain": [-0.0576, 1.1], "nice": false, "zero": false}, "axis": {"orient": "bottom", "values": [0, 0.2, 0.4, 0.6, 0.8, 1], "labels": false, "domain": false, "ticks": true, "tickSize": -42, "tickWidth": 4, "tickColor": "#000", "grid": false, "title": null}},
  "y": {"field": "z", "type": "quantitative", "scale": {"domain": [0, 2.4], "nice": false, "zero": false}, "axis": {"orient": "left", "values": [0, 0.5, 1, 1.5, 2], "labels": false, "domain": false, "ticks": true, "tickSize": -38, "tickWidth": 4, "tickColor": "#000", "grid": false, "title": null}},
  "text": {"field": "t", "type": "nominal"}
 }},
{"data": {"name": "one"},
 "mark": {"type": "text", "text": "b", "fontSize": 52, "font": "Liberation Sans", "color": "#1a1a1a", "baseline": "middle", "align": "center"},
 "encoding": {
  "x": {"datum": 0.535, "type": "quantitative", "scale": {"domain": [-0.0576, 1.1], "nice": false, "zero": false}, "axis": {"orient": "bottom", "values": [-0.05, 0.05, 0.1, 0.15, 0.2, 0.25, 0.3, 0.35, 0.4, 0.45, 0.5, 0.55, 0.6, 0.65, 0.7, 0.75, 0.8, 0.85, 0.9, 0.95, 1, 1.05], "labels": false, "domain": false, "ticks": true, "tickSize": -24, "tickWidth": 2.5, "tickColor": "#333", "grid": false, "title": null}},
  "y": {"datum": -0.146, "type": "quantitative", "scale": {"domain": [0, 2.4], "nice": false, "zero": false}, "axis": {"orient": "left", "values": [0.1, 0.2, 0.3, 0.4, 0.5, 0.6, 0.7, 0.8, 0.9, 1, 1.1, 1.2, 1.3, 1.4, 1.5, 1.6, 1.7, 1.8, 1.9, 2, 2.1, 2.2, 2.3, 2.4], "labels": false, "domain": false, "ticks": true, "tickSize": -20, "tickWidth": 2.5, "tickColor": "#333", "grid": false, "title": null}}
 }},
{"data": {"name": "one"},
 "mark": {"type": "text", "text": "b)", "fontSize": 62, "font": "Liberation Sans", "color": "#1a1a1a", "baseline": "middle", "align": "center"},
 "encoding": {
  "x": {"datum": -0.06, "type": "quantitative", "scale": {"domain": [-0.0576, 1.1], "nice": false, "zero": false}, "axis": null},
  "y": {"datum": -0.109, "type": "quantitative", "scale": {"domain": [0, 2.4], "nice": false, "zero": false}, "axis": null}
 }}
]
}
]
}
